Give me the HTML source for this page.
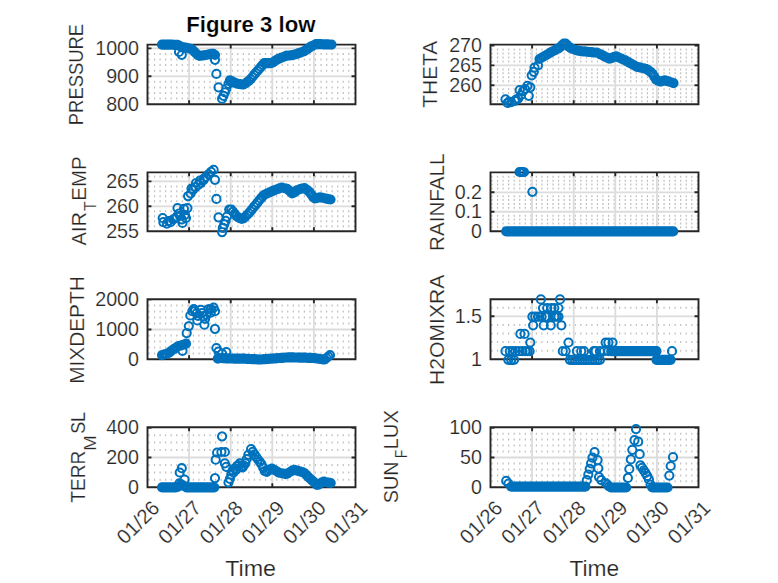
<!DOCTYPE html><html><head><meta charset="utf-8"><title>Figure 3 low</title><style>html,body{margin:0;padding:0;background:#fff;overflow:hidden}svg{display:block}text{font-family:"Liberation Sans", sans-serif;}.t text{stroke:#fff;stroke-width:0.2px}</style></head><body>
<svg width="778" height="583" viewBox="0 0 778 583">
<rect width="778" height="583" fill="#fff"/>
<path d="M149.00 97.62v2.0M154.55 97.62v2.0M160.10 97.62v2.0M165.65 97.62v2.0M171.20 97.62v2.0M176.75 97.62v2.0M182.30 97.62v2.0M187.85 97.62v2.0M193.40 97.62v2.0M198.95 97.62v2.0M204.50 97.62v2.0M210.05 97.62v2.0M215.60 97.62v2.0M221.15 97.62v2.0M226.70 97.62v2.0M232.25 97.62v2.0M237.80 97.62v2.0M243.35 97.62v2.0M248.90 97.62v2.0M254.45 97.62v2.0M260.00 97.62v2.0M265.55 97.62v2.0M271.10 97.62v2.0M276.65 97.62v2.0M282.20 97.62v2.0M287.75 97.62v2.0M293.30 97.62v2.0M298.85 97.62v2.0M304.40 97.62v2.0M309.95 97.62v2.0M315.50 97.62v2.0M321.05 97.62v2.0M326.60 97.62v2.0M332.15 97.62v2.0M337.70 97.62v2.0M343.25 97.62v2.0M348.80 97.62v2.0M354.35 97.62v2.0M149.00 92.03v2.0M154.55 92.03v2.0M160.10 92.03v2.0M165.65 92.03v2.0M171.20 92.03v2.0M176.75 92.03v2.0M182.30 92.03v2.0M187.85 92.03v2.0M193.40 92.03v2.0M198.95 92.03v2.0M204.50 92.03v2.0M210.05 92.03v2.0M215.60 92.03v2.0M221.15 92.03v2.0M226.70 92.03v2.0M232.25 92.03v2.0M237.80 92.03v2.0M243.35 92.03v2.0M248.90 92.03v2.0M254.45 92.03v2.0M260.00 92.03v2.0M265.55 92.03v2.0M271.10 92.03v2.0M276.65 92.03v2.0M282.20 92.03v2.0M287.75 92.03v2.0M293.30 92.03v2.0M298.85 92.03v2.0M304.40 92.03v2.0M309.95 92.03v2.0M315.50 92.03v2.0M321.05 92.03v2.0M326.60 92.03v2.0M332.15 92.03v2.0M337.70 92.03v2.0M343.25 92.03v2.0M348.80 92.03v2.0M354.35 92.03v2.0M149.00 86.44v2.0M154.55 86.44v2.0M160.10 86.44v2.0M165.65 86.44v2.0M171.20 86.44v2.0M176.75 86.44v2.0M182.30 86.44v2.0M187.85 86.44v2.0M193.40 86.44v2.0M198.95 86.44v2.0M204.50 86.44v2.0M210.05 86.44v2.0M215.60 86.44v2.0M221.15 86.44v2.0M226.70 86.44v2.0M232.25 86.44v2.0M237.80 86.44v2.0M243.35 86.44v2.0M248.90 86.44v2.0M254.45 86.44v2.0M260.00 86.44v2.0M265.55 86.44v2.0M271.10 86.44v2.0M276.65 86.44v2.0M282.20 86.44v2.0M287.75 86.44v2.0M293.30 86.44v2.0M298.85 86.44v2.0M304.40 86.44v2.0M309.95 86.44v2.0M315.50 86.44v2.0M321.05 86.44v2.0M326.60 86.44v2.0M332.15 86.44v2.0M337.70 86.44v2.0M343.25 86.44v2.0M348.80 86.44v2.0M354.35 86.44v2.0M149.00 80.86v2.0M154.55 80.86v2.0M160.10 80.86v2.0M165.65 80.86v2.0M171.20 80.86v2.0M176.75 80.86v2.0M182.30 80.86v2.0M187.85 80.86v2.0M193.40 80.86v2.0M198.95 80.86v2.0M204.50 80.86v2.0M210.05 80.86v2.0M215.60 80.86v2.0M221.15 80.86v2.0M226.70 80.86v2.0M232.25 80.86v2.0M237.80 80.86v2.0M243.35 80.86v2.0M248.90 80.86v2.0M254.45 80.86v2.0M260.00 80.86v2.0M265.55 80.86v2.0M271.10 80.86v2.0M276.65 80.86v2.0M282.20 80.86v2.0M287.75 80.86v2.0M293.30 80.86v2.0M298.85 80.86v2.0M304.40 80.86v2.0M309.95 80.86v2.0M315.50 80.86v2.0M321.05 80.86v2.0M326.60 80.86v2.0M332.15 80.86v2.0M337.70 80.86v2.0M343.25 80.86v2.0M348.80 80.86v2.0M354.35 80.86v2.0M149.00 69.69v2.0M154.55 69.69v2.0M160.10 69.69v2.0M165.65 69.69v2.0M171.20 69.69v2.0M176.75 69.69v2.0M182.30 69.69v2.0M187.85 69.69v2.0M193.40 69.69v2.0M198.95 69.69v2.0M204.50 69.69v2.0M210.05 69.69v2.0M215.60 69.69v2.0M221.15 69.69v2.0M226.70 69.69v2.0M232.25 69.69v2.0M237.80 69.69v2.0M243.35 69.69v2.0M248.90 69.69v2.0M254.45 69.69v2.0M260.00 69.69v2.0M265.55 69.69v2.0M271.10 69.69v2.0M276.65 69.69v2.0M282.20 69.69v2.0M287.75 69.69v2.0M293.30 69.69v2.0M298.85 69.69v2.0M304.40 69.69v2.0M309.95 69.69v2.0M315.50 69.69v2.0M321.05 69.69v2.0M326.60 69.69v2.0M332.15 69.69v2.0M337.70 69.69v2.0M343.25 69.69v2.0M348.80 69.69v2.0M354.35 69.69v2.0M149.00 64.11v2.0M154.55 64.11v2.0M160.10 64.11v2.0M165.65 64.11v2.0M171.20 64.11v2.0M176.75 64.11v2.0M182.30 64.11v2.0M187.85 64.11v2.0M193.40 64.11v2.0M198.95 64.11v2.0M204.50 64.11v2.0M210.05 64.11v2.0M215.60 64.11v2.0M221.15 64.11v2.0M226.70 64.11v2.0M232.25 64.11v2.0M237.80 64.11v2.0M243.35 64.11v2.0M248.90 64.11v2.0M254.45 64.11v2.0M260.00 64.11v2.0M265.55 64.11v2.0M271.10 64.11v2.0M276.65 64.11v2.0M282.20 64.11v2.0M287.75 64.11v2.0M293.30 64.11v2.0M298.85 64.11v2.0M304.40 64.11v2.0M309.95 64.11v2.0M315.50 64.11v2.0M321.05 64.11v2.0M326.60 64.11v2.0M332.15 64.11v2.0M337.70 64.11v2.0M343.25 64.11v2.0M348.80 64.11v2.0M354.35 64.11v2.0M149.00 58.52v2.0M154.55 58.52v2.0M160.10 58.52v2.0M165.65 58.52v2.0M171.20 58.52v2.0M176.75 58.52v2.0M182.30 58.52v2.0M187.85 58.52v2.0M193.40 58.52v2.0M198.95 58.52v2.0M204.50 58.52v2.0M210.05 58.52v2.0M215.60 58.52v2.0M221.15 58.52v2.0M226.70 58.52v2.0M232.25 58.52v2.0M237.80 58.52v2.0M243.35 58.52v2.0M248.90 58.52v2.0M254.45 58.52v2.0M260.00 58.52v2.0M265.55 58.52v2.0M271.10 58.52v2.0M276.65 58.52v2.0M282.20 58.52v2.0M287.75 58.52v2.0M293.30 58.52v2.0M298.85 58.52v2.0M304.40 58.52v2.0M309.95 58.52v2.0M315.50 58.52v2.0M321.05 58.52v2.0M326.60 58.52v2.0M332.15 58.52v2.0M337.70 58.52v2.0M343.25 58.52v2.0M348.80 58.52v2.0M354.35 58.52v2.0M149.00 52.94v2.0M154.55 52.94v2.0M160.10 52.94v2.0M165.65 52.94v2.0M171.20 52.94v2.0M176.75 52.94v2.0M182.30 52.94v2.0M187.85 52.94v2.0M193.40 52.94v2.0M198.95 52.94v2.0M204.50 52.94v2.0M210.05 52.94v2.0M215.60 52.94v2.0M221.15 52.94v2.0M226.70 52.94v2.0M232.25 52.94v2.0M237.80 52.94v2.0M243.35 52.94v2.0M248.90 52.94v2.0M254.45 52.94v2.0M260.00 52.94v2.0M265.55 52.94v2.0M271.10 52.94v2.0M276.65 52.94v2.0M282.20 52.94v2.0M287.75 52.94v2.0M293.30 52.94v2.0M298.85 52.94v2.0M304.40 52.94v2.0M309.95 52.94v2.0M315.50 52.94v2.0M321.05 52.94v2.0M326.60 52.94v2.0M332.15 52.94v2.0M337.70 52.94v2.0M343.25 52.94v2.0M348.80 52.94v2.0M354.35 52.94v2.0M492.00 100.22v2.0M497.55 100.22v2.0M503.10 100.22v2.0M508.65 100.22v2.0M514.20 100.22v2.0M519.75 100.22v2.0M525.30 100.22v2.0M530.85 100.22v2.0M536.40 100.22v2.0M541.95 100.22v2.0M547.50 100.22v2.0M553.05 100.22v2.0M558.60 100.22v2.0M564.15 100.22v2.0M569.70 100.22v2.0M575.25 100.22v2.0M580.80 100.22v2.0M586.35 100.22v2.0M591.90 100.22v2.0M597.45 100.22v2.0M603.00 100.22v2.0M608.55 100.22v2.0M614.10 100.22v2.0M619.65 100.22v2.0M625.20 100.22v2.0M630.75 100.22v2.0M636.30 100.22v2.0M641.85 100.22v2.0M647.40 100.22v2.0M652.95 100.22v2.0M658.50 100.22v2.0M664.05 100.22v2.0M669.60 100.22v2.0M675.15 100.22v2.0M680.70 100.22v2.0M686.25 100.22v2.0M691.80 100.22v2.0M697.35 100.22v2.0M492.00 96.24v2.0M497.55 96.24v2.0M503.10 96.24v2.0M508.65 96.24v2.0M514.20 96.24v2.0M519.75 96.24v2.0M525.30 96.24v2.0M530.85 96.24v2.0M536.40 96.24v2.0M541.95 96.24v2.0M547.50 96.24v2.0M553.05 96.24v2.0M558.60 96.24v2.0M564.15 96.24v2.0M569.70 96.24v2.0M575.25 96.24v2.0M580.80 96.24v2.0M586.35 96.24v2.0M591.90 96.24v2.0M597.45 96.24v2.0M603.00 96.24v2.0M608.55 96.24v2.0M614.10 96.24v2.0M619.65 96.24v2.0M625.20 96.24v2.0M630.75 96.24v2.0M636.30 96.24v2.0M641.85 96.24v2.0M647.40 96.24v2.0M652.95 96.24v2.0M658.50 96.24v2.0M664.05 96.24v2.0M669.60 96.24v2.0M675.15 96.24v2.0M680.70 96.24v2.0M686.25 96.24v2.0M691.80 96.24v2.0M697.35 96.24v2.0M492.00 92.26v2.0M497.55 92.26v2.0M503.10 92.26v2.0M508.65 92.26v2.0M514.20 92.26v2.0M519.75 92.26v2.0M525.30 92.26v2.0M530.85 92.26v2.0M536.40 92.26v2.0M541.95 92.26v2.0M547.50 92.26v2.0M553.05 92.26v2.0M558.60 92.26v2.0M564.15 92.26v2.0M569.70 92.26v2.0M575.25 92.26v2.0M580.80 92.26v2.0M586.35 92.26v2.0M591.90 92.26v2.0M597.45 92.26v2.0M603.00 92.26v2.0M608.55 92.26v2.0M614.10 92.26v2.0M619.65 92.26v2.0M625.20 92.26v2.0M630.75 92.26v2.0M636.30 92.26v2.0M641.85 92.26v2.0M647.40 92.26v2.0M652.95 92.26v2.0M658.50 92.26v2.0M664.05 92.26v2.0M669.60 92.26v2.0M675.15 92.26v2.0M680.70 92.26v2.0M686.25 92.26v2.0M691.80 92.26v2.0M697.35 92.26v2.0M492.00 88.28v2.0M497.55 88.28v2.0M503.10 88.28v2.0M508.65 88.28v2.0M514.20 88.28v2.0M519.75 88.28v2.0M525.30 88.28v2.0M530.85 88.28v2.0M536.40 88.28v2.0M541.95 88.28v2.0M547.50 88.28v2.0M553.05 88.28v2.0M558.60 88.28v2.0M564.15 88.28v2.0M569.70 88.28v2.0M575.25 88.28v2.0M580.80 88.28v2.0M586.35 88.28v2.0M591.90 88.28v2.0M597.45 88.28v2.0M603.00 88.28v2.0M608.55 88.28v2.0M614.10 88.28v2.0M619.65 88.28v2.0M625.20 88.28v2.0M630.75 88.28v2.0M636.30 88.28v2.0M641.85 88.28v2.0M647.40 88.28v2.0M652.95 88.28v2.0M658.50 88.28v2.0M664.05 88.28v2.0M669.60 88.28v2.0M675.15 88.28v2.0M680.70 88.28v2.0M686.25 88.28v2.0M691.80 88.28v2.0M697.35 88.28v2.0M492.00 80.32v2.0M497.55 80.32v2.0M503.10 80.32v2.0M508.65 80.32v2.0M514.20 80.32v2.0M519.75 80.32v2.0M525.30 80.32v2.0M530.85 80.32v2.0M536.40 80.32v2.0M541.95 80.32v2.0M547.50 80.32v2.0M553.05 80.32v2.0M558.60 80.32v2.0M564.15 80.32v2.0M569.70 80.32v2.0M575.25 80.32v2.0M580.80 80.32v2.0M586.35 80.32v2.0M591.90 80.32v2.0M597.45 80.32v2.0M603.00 80.32v2.0M608.55 80.32v2.0M614.10 80.32v2.0M619.65 80.32v2.0M625.20 80.32v2.0M630.75 80.32v2.0M636.30 80.32v2.0M641.85 80.32v2.0M647.40 80.32v2.0M652.95 80.32v2.0M658.50 80.32v2.0M664.05 80.32v2.0M669.60 80.32v2.0M675.15 80.32v2.0M680.70 80.32v2.0M686.25 80.32v2.0M691.80 80.32v2.0M697.35 80.32v2.0M492.00 76.34v2.0M497.55 76.34v2.0M503.10 76.34v2.0M508.65 76.34v2.0M514.20 76.34v2.0M519.75 76.34v2.0M525.30 76.34v2.0M530.85 76.34v2.0M536.40 76.34v2.0M541.95 76.34v2.0M547.50 76.34v2.0M553.05 76.34v2.0M558.60 76.34v2.0M564.15 76.34v2.0M569.70 76.34v2.0M575.25 76.34v2.0M580.80 76.34v2.0M586.35 76.34v2.0M591.90 76.34v2.0M597.45 76.34v2.0M603.00 76.34v2.0M608.55 76.34v2.0M614.10 76.34v2.0M619.65 76.34v2.0M625.20 76.34v2.0M630.75 76.34v2.0M636.30 76.34v2.0M641.85 76.34v2.0M647.40 76.34v2.0M652.95 76.34v2.0M658.50 76.34v2.0M664.05 76.34v2.0M669.60 76.34v2.0M675.15 76.34v2.0M680.70 76.34v2.0M686.25 76.34v2.0M691.80 76.34v2.0M697.35 76.34v2.0M492.00 72.36v2.0M497.55 72.36v2.0M503.10 72.36v2.0M508.65 72.36v2.0M514.20 72.36v2.0M519.75 72.36v2.0M525.30 72.36v2.0M530.85 72.36v2.0M536.40 72.36v2.0M541.95 72.36v2.0M547.50 72.36v2.0M553.05 72.36v2.0M558.60 72.36v2.0M564.15 72.36v2.0M569.70 72.36v2.0M575.25 72.36v2.0M580.80 72.36v2.0M586.35 72.36v2.0M591.90 72.36v2.0M597.45 72.36v2.0M603.00 72.36v2.0M608.55 72.36v2.0M614.10 72.36v2.0M619.65 72.36v2.0M625.20 72.36v2.0M630.75 72.36v2.0M636.30 72.36v2.0M641.85 72.36v2.0M647.40 72.36v2.0M652.95 72.36v2.0M658.50 72.36v2.0M664.05 72.36v2.0M669.60 72.36v2.0M675.15 72.36v2.0M680.70 72.36v2.0M686.25 72.36v2.0M691.80 72.36v2.0M697.35 72.36v2.0M492.00 68.38v2.0M497.55 68.38v2.0M503.10 68.38v2.0M508.65 68.38v2.0M514.20 68.38v2.0M519.75 68.38v2.0M525.30 68.38v2.0M530.85 68.38v2.0M536.40 68.38v2.0M541.95 68.38v2.0M547.50 68.38v2.0M553.05 68.38v2.0M558.60 68.38v2.0M564.15 68.38v2.0M569.70 68.38v2.0M575.25 68.38v2.0M580.80 68.38v2.0M586.35 68.38v2.0M591.90 68.38v2.0M597.45 68.38v2.0M603.00 68.38v2.0M608.55 68.38v2.0M614.10 68.38v2.0M619.65 68.38v2.0M625.20 68.38v2.0M630.75 68.38v2.0M636.30 68.38v2.0M641.85 68.38v2.0M647.40 68.38v2.0M652.95 68.38v2.0M658.50 68.38v2.0M664.05 68.38v2.0M669.60 68.38v2.0M675.15 68.38v2.0M680.70 68.38v2.0M686.25 68.38v2.0M691.80 68.38v2.0M697.35 68.38v2.0M492.00 60.42v2.0M497.55 60.42v2.0M503.10 60.42v2.0M508.65 60.42v2.0M514.20 60.42v2.0M519.75 60.42v2.0M525.30 60.42v2.0M530.85 60.42v2.0M536.40 60.42v2.0M541.95 60.42v2.0M547.50 60.42v2.0M553.05 60.42v2.0M558.60 60.42v2.0M564.15 60.42v2.0M569.70 60.42v2.0M575.25 60.42v2.0M580.80 60.42v2.0M586.35 60.42v2.0M591.90 60.42v2.0M597.45 60.42v2.0M603.00 60.42v2.0M608.55 60.42v2.0M614.10 60.42v2.0M619.65 60.42v2.0M625.20 60.42v2.0M630.75 60.42v2.0M636.30 60.42v2.0M641.85 60.42v2.0M647.40 60.42v2.0M652.95 60.42v2.0M658.50 60.42v2.0M664.05 60.42v2.0M669.60 60.42v2.0M675.15 60.42v2.0M680.70 60.42v2.0M686.25 60.42v2.0M691.80 60.42v2.0M697.35 60.42v2.0M492.00 56.44v2.0M497.55 56.44v2.0M503.10 56.44v2.0M508.65 56.44v2.0M514.20 56.44v2.0M519.75 56.44v2.0M525.30 56.44v2.0M530.85 56.44v2.0M536.40 56.44v2.0M541.95 56.44v2.0M547.50 56.44v2.0M553.05 56.44v2.0M558.60 56.44v2.0M564.15 56.44v2.0M569.70 56.44v2.0M575.25 56.44v2.0M580.80 56.44v2.0M586.35 56.44v2.0M591.90 56.44v2.0M597.45 56.44v2.0M603.00 56.44v2.0M608.55 56.44v2.0M614.10 56.44v2.0M619.65 56.44v2.0M625.20 56.44v2.0M630.75 56.44v2.0M636.30 56.44v2.0M641.85 56.44v2.0M647.40 56.44v2.0M652.95 56.44v2.0M658.50 56.44v2.0M664.05 56.44v2.0M669.60 56.44v2.0M675.15 56.44v2.0M680.70 56.44v2.0M686.25 56.44v2.0M691.80 56.44v2.0M697.35 56.44v2.0M492.00 52.46v2.0M497.55 52.46v2.0M503.10 52.46v2.0M508.65 52.46v2.0M514.20 52.46v2.0M519.75 52.46v2.0M525.30 52.46v2.0M530.85 52.46v2.0M536.40 52.46v2.0M541.95 52.46v2.0M547.50 52.46v2.0M553.05 52.46v2.0M558.60 52.46v2.0M564.15 52.46v2.0M569.70 52.46v2.0M575.25 52.46v2.0M580.80 52.46v2.0M586.35 52.46v2.0M591.90 52.46v2.0M597.45 52.46v2.0M603.00 52.46v2.0M608.55 52.46v2.0M614.10 52.46v2.0M619.65 52.46v2.0M625.20 52.46v2.0M630.75 52.46v2.0M636.30 52.46v2.0M641.85 52.46v2.0M647.40 52.46v2.0M652.95 52.46v2.0M658.50 52.46v2.0M664.05 52.46v2.0M669.60 52.46v2.0M675.15 52.46v2.0M680.70 52.46v2.0M686.25 52.46v2.0M691.80 52.46v2.0M697.35 52.46v2.0M492.00 48.48v2.0M497.55 48.48v2.0M503.10 48.48v2.0M508.65 48.48v2.0M514.20 48.48v2.0M519.75 48.48v2.0M525.30 48.48v2.0M530.85 48.48v2.0M536.40 48.48v2.0M541.95 48.48v2.0M547.50 48.48v2.0M553.05 48.48v2.0M558.60 48.48v2.0M564.15 48.48v2.0M569.70 48.48v2.0M575.25 48.48v2.0M580.80 48.48v2.0M586.35 48.48v2.0M591.90 48.48v2.0M597.45 48.48v2.0M603.00 48.48v2.0M608.55 48.48v2.0M614.10 48.48v2.0M619.65 48.48v2.0M625.20 48.48v2.0M630.75 48.48v2.0M636.30 48.48v2.0M641.85 48.48v2.0M647.40 48.48v2.0M652.95 48.48v2.0M658.50 48.48v2.0M664.05 48.48v2.0M669.60 48.48v2.0M675.15 48.48v2.0M680.70 48.48v2.0M686.25 48.48v2.0M691.80 48.48v2.0M697.35 48.48v2.0M149.00 225.22v2.0M154.55 225.22v2.0M160.10 225.22v2.0M165.65 225.22v2.0M171.20 225.22v2.0M176.75 225.22v2.0M182.30 225.22v2.0M187.85 225.22v2.0M193.40 225.22v2.0M198.95 225.22v2.0M204.50 225.22v2.0M210.05 225.22v2.0M215.60 225.22v2.0M221.15 225.22v2.0M226.70 225.22v2.0M232.25 225.22v2.0M237.80 225.22v2.0M243.35 225.22v2.0M248.90 225.22v2.0M254.45 225.22v2.0M260.00 225.22v2.0M265.55 225.22v2.0M271.10 225.22v2.0M276.65 225.22v2.0M282.20 225.22v2.0M287.75 225.22v2.0M293.30 225.22v2.0M298.85 225.22v2.0M304.40 225.22v2.0M309.95 225.22v2.0M315.50 225.22v2.0M321.05 225.22v2.0M326.60 225.22v2.0M332.15 225.22v2.0M337.70 225.22v2.0M343.25 225.22v2.0M348.80 225.22v2.0M354.35 225.22v2.0M149.00 220.24v2.0M154.55 220.24v2.0M160.10 220.24v2.0M165.65 220.24v2.0M171.20 220.24v2.0M176.75 220.24v2.0M182.30 220.24v2.0M187.85 220.24v2.0M193.40 220.24v2.0M198.95 220.24v2.0M204.50 220.24v2.0M210.05 220.24v2.0M215.60 220.24v2.0M221.15 220.24v2.0M226.70 220.24v2.0M232.25 220.24v2.0M237.80 220.24v2.0M243.35 220.24v2.0M248.90 220.24v2.0M254.45 220.24v2.0M260.00 220.24v2.0M265.55 220.24v2.0M271.10 220.24v2.0M276.65 220.24v2.0M282.20 220.24v2.0M287.75 220.24v2.0M293.30 220.24v2.0M298.85 220.24v2.0M304.40 220.24v2.0M309.95 220.24v2.0M315.50 220.24v2.0M321.05 220.24v2.0M326.60 220.24v2.0M332.15 220.24v2.0M337.70 220.24v2.0M343.25 220.24v2.0M348.80 220.24v2.0M354.35 220.24v2.0M149.00 215.26v2.0M154.55 215.26v2.0M160.10 215.26v2.0M165.65 215.26v2.0M171.20 215.26v2.0M176.75 215.26v2.0M182.30 215.26v2.0M187.85 215.26v2.0M193.40 215.26v2.0M198.95 215.26v2.0M204.50 215.26v2.0M210.05 215.26v2.0M215.60 215.26v2.0M221.15 215.26v2.0M226.70 215.26v2.0M232.25 215.26v2.0M237.80 215.26v2.0M243.35 215.26v2.0M248.90 215.26v2.0M254.45 215.26v2.0M260.00 215.26v2.0M265.55 215.26v2.0M271.10 215.26v2.0M276.65 215.26v2.0M282.20 215.26v2.0M287.75 215.26v2.0M293.30 215.26v2.0M298.85 215.26v2.0M304.40 215.26v2.0M309.95 215.26v2.0M315.50 215.26v2.0M321.05 215.26v2.0M326.60 215.26v2.0M332.15 215.26v2.0M337.70 215.26v2.0M343.25 215.26v2.0M348.80 215.26v2.0M354.35 215.26v2.0M149.00 210.28v2.0M154.55 210.28v2.0M160.10 210.28v2.0M165.65 210.28v2.0M171.20 210.28v2.0M176.75 210.28v2.0M182.30 210.28v2.0M187.85 210.28v2.0M193.40 210.28v2.0M198.95 210.28v2.0M204.50 210.28v2.0M210.05 210.28v2.0M215.60 210.28v2.0M221.15 210.28v2.0M226.70 210.28v2.0M232.25 210.28v2.0M237.80 210.28v2.0M243.35 210.28v2.0M248.90 210.28v2.0M254.45 210.28v2.0M260.00 210.28v2.0M265.55 210.28v2.0M271.10 210.28v2.0M276.65 210.28v2.0M282.20 210.28v2.0M287.75 210.28v2.0M293.30 210.28v2.0M298.85 210.28v2.0M304.40 210.28v2.0M309.95 210.28v2.0M315.50 210.28v2.0M321.05 210.28v2.0M326.60 210.28v2.0M332.15 210.28v2.0M337.70 210.28v2.0M343.25 210.28v2.0M348.80 210.28v2.0M354.35 210.28v2.0M149.00 200.32v2.0M154.55 200.32v2.0M160.10 200.32v2.0M165.65 200.32v2.0M171.20 200.32v2.0M176.75 200.32v2.0M182.30 200.32v2.0M187.85 200.32v2.0M193.40 200.32v2.0M198.95 200.32v2.0M204.50 200.32v2.0M210.05 200.32v2.0M215.60 200.32v2.0M221.15 200.32v2.0M226.70 200.32v2.0M232.25 200.32v2.0M237.80 200.32v2.0M243.35 200.32v2.0M248.90 200.32v2.0M254.45 200.32v2.0M260.00 200.32v2.0M265.55 200.32v2.0M271.10 200.32v2.0M276.65 200.32v2.0M282.20 200.32v2.0M287.75 200.32v2.0M293.30 200.32v2.0M298.85 200.32v2.0M304.40 200.32v2.0M309.95 200.32v2.0M315.50 200.32v2.0M321.05 200.32v2.0M326.60 200.32v2.0M332.15 200.32v2.0M337.70 200.32v2.0M343.25 200.32v2.0M348.80 200.32v2.0M354.35 200.32v2.0M149.00 195.34v2.0M154.55 195.34v2.0M160.10 195.34v2.0M165.65 195.34v2.0M171.20 195.34v2.0M176.75 195.34v2.0M182.30 195.34v2.0M187.85 195.34v2.0M193.40 195.34v2.0M198.95 195.34v2.0M204.50 195.34v2.0M210.05 195.34v2.0M215.60 195.34v2.0M221.15 195.34v2.0M226.70 195.34v2.0M232.25 195.34v2.0M237.80 195.34v2.0M243.35 195.34v2.0M248.90 195.34v2.0M254.45 195.34v2.0M260.00 195.34v2.0M265.55 195.34v2.0M271.10 195.34v2.0M276.65 195.34v2.0M282.20 195.34v2.0M287.75 195.34v2.0M293.30 195.34v2.0M298.85 195.34v2.0M304.40 195.34v2.0M309.95 195.34v2.0M315.50 195.34v2.0M321.05 195.34v2.0M326.60 195.34v2.0M332.15 195.34v2.0M337.70 195.34v2.0M343.25 195.34v2.0M348.80 195.34v2.0M354.35 195.34v2.0M149.00 190.36v2.0M154.55 190.36v2.0M160.10 190.36v2.0M165.65 190.36v2.0M171.20 190.36v2.0M176.75 190.36v2.0M182.30 190.36v2.0M187.85 190.36v2.0M193.40 190.36v2.0M198.95 190.36v2.0M204.50 190.36v2.0M210.05 190.36v2.0M215.60 190.36v2.0M221.15 190.36v2.0M226.70 190.36v2.0M232.25 190.36v2.0M237.80 190.36v2.0M243.35 190.36v2.0M248.90 190.36v2.0M254.45 190.36v2.0M260.00 190.36v2.0M265.55 190.36v2.0M271.10 190.36v2.0M276.65 190.36v2.0M282.20 190.36v2.0M287.75 190.36v2.0M293.30 190.36v2.0M298.85 190.36v2.0M304.40 190.36v2.0M309.95 190.36v2.0M315.50 190.36v2.0M321.05 190.36v2.0M326.60 190.36v2.0M332.15 190.36v2.0M337.70 190.36v2.0M343.25 190.36v2.0M348.80 190.36v2.0M354.35 190.36v2.0M149.00 185.38v2.0M154.55 185.38v2.0M160.10 185.38v2.0M165.65 185.38v2.0M171.20 185.38v2.0M176.75 185.38v2.0M182.30 185.38v2.0M187.85 185.38v2.0M193.40 185.38v2.0M198.95 185.38v2.0M204.50 185.38v2.0M210.05 185.38v2.0M215.60 185.38v2.0M221.15 185.38v2.0M226.70 185.38v2.0M232.25 185.38v2.0M237.80 185.38v2.0M243.35 185.38v2.0M248.90 185.38v2.0M254.45 185.38v2.0M260.00 185.38v2.0M265.55 185.38v2.0M271.10 185.38v2.0M276.65 185.38v2.0M282.20 185.38v2.0M287.75 185.38v2.0M293.30 185.38v2.0M298.85 185.38v2.0M304.40 185.38v2.0M309.95 185.38v2.0M315.50 185.38v2.0M321.05 185.38v2.0M326.60 185.38v2.0M332.15 185.38v2.0M337.70 185.38v2.0M343.25 185.38v2.0M348.80 185.38v2.0M354.35 185.38v2.0M149.00 175.42v2.0M154.55 175.42v2.0M160.10 175.42v2.0M165.65 175.42v2.0M171.20 175.42v2.0M176.75 175.42v2.0M182.30 175.42v2.0M187.85 175.42v2.0M193.40 175.42v2.0M198.95 175.42v2.0M204.50 175.42v2.0M210.05 175.42v2.0M215.60 175.42v2.0M221.15 175.42v2.0M226.70 175.42v2.0M232.25 175.42v2.0M237.80 175.42v2.0M243.35 175.42v2.0M248.90 175.42v2.0M254.45 175.42v2.0M260.00 175.42v2.0M265.55 175.42v2.0M271.10 175.42v2.0M276.65 175.42v2.0M282.20 175.42v2.0M287.75 175.42v2.0M293.30 175.42v2.0M298.85 175.42v2.0M304.40 175.42v2.0M309.95 175.42v2.0M315.50 175.42v2.0M321.05 175.42v2.0M326.60 175.42v2.0M332.15 175.42v2.0M337.70 175.42v2.0M343.25 175.42v2.0M348.80 175.42v2.0M354.35 175.42v2.0M492.00 226.31v2.0M497.55 226.31v2.0M503.10 226.31v2.0M508.65 226.31v2.0M514.20 226.31v2.0M519.75 226.31v2.0M525.30 226.31v2.0M530.85 226.31v2.0M536.40 226.31v2.0M541.95 226.31v2.0M547.50 226.31v2.0M553.05 226.31v2.0M558.60 226.31v2.0M564.15 226.31v2.0M569.70 226.31v2.0M575.25 226.31v2.0M580.80 226.31v2.0M586.35 226.31v2.0M591.90 226.31v2.0M597.45 226.31v2.0M603.00 226.31v2.0M608.55 226.31v2.0M614.10 226.31v2.0M619.65 226.31v2.0M625.20 226.31v2.0M630.75 226.31v2.0M636.30 226.31v2.0M641.85 226.31v2.0M647.40 226.31v2.0M652.95 226.31v2.0M658.50 226.31v2.0M664.05 226.31v2.0M669.60 226.31v2.0M675.15 226.31v2.0M680.70 226.31v2.0M686.25 226.31v2.0M691.80 226.31v2.0M697.35 226.31v2.0M492.00 222.42v2.0M497.55 222.42v2.0M503.10 222.42v2.0M508.65 222.42v2.0M514.20 222.42v2.0M519.75 222.42v2.0M525.30 222.42v2.0M530.85 222.42v2.0M536.40 222.42v2.0M541.95 222.42v2.0M547.50 222.42v2.0M553.05 222.42v2.0M558.60 222.42v2.0M564.15 222.42v2.0M569.70 222.42v2.0M575.25 222.42v2.0M580.80 222.42v2.0M586.35 222.42v2.0M591.90 222.42v2.0M597.45 222.42v2.0M603.00 222.42v2.0M608.55 222.42v2.0M614.10 222.42v2.0M619.65 222.42v2.0M625.20 222.42v2.0M630.75 222.42v2.0M636.30 222.42v2.0M641.85 222.42v2.0M647.40 222.42v2.0M652.95 222.42v2.0M658.50 222.42v2.0M664.05 222.42v2.0M669.60 222.42v2.0M675.15 222.42v2.0M680.70 222.42v2.0M686.25 222.42v2.0M691.80 222.42v2.0M697.35 222.42v2.0M492.00 218.53v2.0M497.55 218.53v2.0M503.10 218.53v2.0M508.65 218.53v2.0M514.20 218.53v2.0M519.75 218.53v2.0M525.30 218.53v2.0M530.85 218.53v2.0M536.40 218.53v2.0M541.95 218.53v2.0M547.50 218.53v2.0M553.05 218.53v2.0M558.60 218.53v2.0M564.15 218.53v2.0M569.70 218.53v2.0M575.25 218.53v2.0M580.80 218.53v2.0M586.35 218.53v2.0M591.90 218.53v2.0M597.45 218.53v2.0M603.00 218.53v2.0M608.55 218.53v2.0M614.10 218.53v2.0M619.65 218.53v2.0M625.20 218.53v2.0M630.75 218.53v2.0M636.30 218.53v2.0M641.85 218.53v2.0M647.40 218.53v2.0M652.95 218.53v2.0M658.50 218.53v2.0M664.05 218.53v2.0M669.60 218.53v2.0M675.15 218.53v2.0M680.70 218.53v2.0M686.25 218.53v2.0M691.80 218.53v2.0M697.35 218.53v2.0M492.00 214.64v2.0M497.55 214.64v2.0M503.10 214.64v2.0M508.65 214.64v2.0M514.20 214.64v2.0M519.75 214.64v2.0M525.30 214.64v2.0M530.85 214.64v2.0M536.40 214.64v2.0M541.95 214.64v2.0M547.50 214.64v2.0M553.05 214.64v2.0M558.60 214.64v2.0M564.15 214.64v2.0M569.70 214.64v2.0M575.25 214.64v2.0M580.80 214.64v2.0M586.35 214.64v2.0M591.90 214.64v2.0M597.45 214.64v2.0M603.00 214.64v2.0M608.55 214.64v2.0M614.10 214.64v2.0M619.65 214.64v2.0M625.20 214.64v2.0M630.75 214.64v2.0M636.30 214.64v2.0M641.85 214.64v2.0M647.40 214.64v2.0M652.95 214.64v2.0M658.50 214.64v2.0M664.05 214.64v2.0M669.60 214.64v2.0M675.15 214.64v2.0M680.70 214.64v2.0M686.25 214.64v2.0M691.80 214.64v2.0M697.35 214.64v2.0M492.00 206.86v2.0M497.55 206.86v2.0M503.10 206.86v2.0M508.65 206.86v2.0M514.20 206.86v2.0M519.75 206.86v2.0M525.30 206.86v2.0M530.85 206.86v2.0M536.40 206.86v2.0M541.95 206.86v2.0M547.50 206.86v2.0M553.05 206.86v2.0M558.60 206.86v2.0M564.15 206.86v2.0M569.70 206.86v2.0M575.25 206.86v2.0M580.80 206.86v2.0M586.35 206.86v2.0M591.90 206.86v2.0M597.45 206.86v2.0M603.00 206.86v2.0M608.55 206.86v2.0M614.10 206.86v2.0M619.65 206.86v2.0M625.20 206.86v2.0M630.75 206.86v2.0M636.30 206.86v2.0M641.85 206.86v2.0M647.40 206.86v2.0M652.95 206.86v2.0M658.50 206.86v2.0M664.05 206.86v2.0M669.60 206.86v2.0M675.15 206.86v2.0M680.70 206.86v2.0M686.25 206.86v2.0M691.80 206.86v2.0M697.35 206.86v2.0M492.00 202.97v2.0M497.55 202.97v2.0M503.10 202.97v2.0M508.65 202.97v2.0M514.20 202.97v2.0M519.75 202.97v2.0M525.30 202.97v2.0M530.85 202.97v2.0M536.40 202.97v2.0M541.95 202.97v2.0M547.50 202.97v2.0M553.05 202.97v2.0M558.60 202.97v2.0M564.15 202.97v2.0M569.70 202.97v2.0M575.25 202.97v2.0M580.80 202.97v2.0M586.35 202.97v2.0M591.90 202.97v2.0M597.45 202.97v2.0M603.00 202.97v2.0M608.55 202.97v2.0M614.10 202.97v2.0M619.65 202.97v2.0M625.20 202.97v2.0M630.75 202.97v2.0M636.30 202.97v2.0M641.85 202.97v2.0M647.40 202.97v2.0M652.95 202.97v2.0M658.50 202.97v2.0M664.05 202.97v2.0M669.60 202.97v2.0M675.15 202.97v2.0M680.70 202.97v2.0M686.25 202.97v2.0M691.80 202.97v2.0M697.35 202.97v2.0M492.00 199.08v2.0M497.55 199.08v2.0M503.10 199.08v2.0M508.65 199.08v2.0M514.20 199.08v2.0M519.75 199.08v2.0M525.30 199.08v2.0M530.85 199.08v2.0M536.40 199.08v2.0M541.95 199.08v2.0M547.50 199.08v2.0M553.05 199.08v2.0M558.60 199.08v2.0M564.15 199.08v2.0M569.70 199.08v2.0M575.25 199.08v2.0M580.80 199.08v2.0M586.35 199.08v2.0M591.90 199.08v2.0M597.45 199.08v2.0M603.00 199.08v2.0M608.55 199.08v2.0M614.10 199.08v2.0M619.65 199.08v2.0M625.20 199.08v2.0M630.75 199.08v2.0M636.30 199.08v2.0M641.85 199.08v2.0M647.40 199.08v2.0M652.95 199.08v2.0M658.50 199.08v2.0M664.05 199.08v2.0M669.60 199.08v2.0M675.15 199.08v2.0M680.70 199.08v2.0M686.25 199.08v2.0M691.80 199.08v2.0M697.35 199.08v2.0M492.00 195.19v2.0M497.55 195.19v2.0M503.10 195.19v2.0M508.65 195.19v2.0M514.20 195.19v2.0M519.75 195.19v2.0M525.30 195.19v2.0M530.85 195.19v2.0M536.40 195.19v2.0M541.95 195.19v2.0M547.50 195.19v2.0M553.05 195.19v2.0M558.60 195.19v2.0M564.15 195.19v2.0M569.70 195.19v2.0M575.25 195.19v2.0M580.80 195.19v2.0M586.35 195.19v2.0M591.90 195.19v2.0M597.45 195.19v2.0M603.00 195.19v2.0M608.55 195.19v2.0M614.10 195.19v2.0M619.65 195.19v2.0M625.20 195.19v2.0M630.75 195.19v2.0M636.30 195.19v2.0M641.85 195.19v2.0M647.40 195.19v2.0M652.95 195.19v2.0M658.50 195.19v2.0M664.05 195.19v2.0M669.60 195.19v2.0M675.15 195.19v2.0M680.70 195.19v2.0M686.25 195.19v2.0M691.80 195.19v2.0M697.35 195.19v2.0M492.00 187.41v2.0M497.55 187.41v2.0M503.10 187.41v2.0M508.65 187.41v2.0M514.20 187.41v2.0M519.75 187.41v2.0M525.30 187.41v2.0M530.85 187.41v2.0M536.40 187.41v2.0M541.95 187.41v2.0M547.50 187.41v2.0M553.05 187.41v2.0M558.60 187.41v2.0M564.15 187.41v2.0M569.70 187.41v2.0M575.25 187.41v2.0M580.80 187.41v2.0M586.35 187.41v2.0M591.90 187.41v2.0M597.45 187.41v2.0M603.00 187.41v2.0M608.55 187.41v2.0M614.10 187.41v2.0M619.65 187.41v2.0M625.20 187.41v2.0M630.75 187.41v2.0M636.30 187.41v2.0M641.85 187.41v2.0M647.40 187.41v2.0M652.95 187.41v2.0M658.50 187.41v2.0M664.05 187.41v2.0M669.60 187.41v2.0M675.15 187.41v2.0M680.70 187.41v2.0M686.25 187.41v2.0M691.80 187.41v2.0M697.35 187.41v2.0M492.00 183.52v2.0M497.55 183.52v2.0M503.10 183.52v2.0M508.65 183.52v2.0M514.20 183.52v2.0M519.75 183.52v2.0M525.30 183.52v2.0M530.85 183.52v2.0M536.40 183.52v2.0M541.95 183.52v2.0M547.50 183.52v2.0M553.05 183.52v2.0M558.60 183.52v2.0M564.15 183.52v2.0M569.70 183.52v2.0M575.25 183.52v2.0M580.80 183.52v2.0M586.35 183.52v2.0M591.90 183.52v2.0M597.45 183.52v2.0M603.00 183.52v2.0M608.55 183.52v2.0M614.10 183.52v2.0M619.65 183.52v2.0M625.20 183.52v2.0M630.75 183.52v2.0M636.30 183.52v2.0M641.85 183.52v2.0M647.40 183.52v2.0M652.95 183.52v2.0M658.50 183.52v2.0M664.05 183.52v2.0M669.60 183.52v2.0M675.15 183.52v2.0M680.70 183.52v2.0M686.25 183.52v2.0M691.80 183.52v2.0M697.35 183.52v2.0M492.00 179.63v2.0M497.55 179.63v2.0M503.10 179.63v2.0M508.65 179.63v2.0M514.20 179.63v2.0M519.75 179.63v2.0M525.30 179.63v2.0M530.85 179.63v2.0M536.40 179.63v2.0M541.95 179.63v2.0M547.50 179.63v2.0M553.05 179.63v2.0M558.60 179.63v2.0M564.15 179.63v2.0M569.70 179.63v2.0M575.25 179.63v2.0M580.80 179.63v2.0M586.35 179.63v2.0M591.90 179.63v2.0M597.45 179.63v2.0M603.00 179.63v2.0M608.55 179.63v2.0M614.10 179.63v2.0M619.65 179.63v2.0M625.20 179.63v2.0M630.75 179.63v2.0M636.30 179.63v2.0M641.85 179.63v2.0M647.40 179.63v2.0M652.95 179.63v2.0M658.50 179.63v2.0M664.05 179.63v2.0M669.60 179.63v2.0M675.15 179.63v2.0M680.70 179.63v2.0M686.25 179.63v2.0M691.80 179.63v2.0M697.35 179.63v2.0M492.00 175.74v2.0M497.55 175.74v2.0M503.10 175.74v2.0M508.65 175.74v2.0M514.20 175.74v2.0M519.75 175.74v2.0M525.30 175.74v2.0M530.85 175.74v2.0M536.40 175.74v2.0M541.95 175.74v2.0M547.50 175.74v2.0M553.05 175.74v2.0M558.60 175.74v2.0M564.15 175.74v2.0M569.70 175.74v2.0M575.25 175.74v2.0M580.80 175.74v2.0M586.35 175.74v2.0M591.90 175.74v2.0M597.45 175.74v2.0M603.00 175.74v2.0M608.55 175.74v2.0M614.10 175.74v2.0M619.65 175.74v2.0M625.20 175.74v2.0M630.75 175.74v2.0M636.30 175.74v2.0M641.85 175.74v2.0M647.40 175.74v2.0M652.95 175.74v2.0M658.50 175.74v2.0M664.05 175.74v2.0M669.60 175.74v2.0M675.15 175.74v2.0M680.70 175.74v2.0M686.25 175.74v2.0M691.80 175.74v2.0M697.35 175.74v2.0M149.00 352.38v2.0M154.55 352.38v2.0M160.10 352.38v2.0M165.65 352.38v2.0M171.20 352.38v2.0M176.75 352.38v2.0M182.30 352.38v2.0M187.85 352.38v2.0M193.40 352.38v2.0M198.95 352.38v2.0M204.50 352.38v2.0M210.05 352.38v2.0M215.60 352.38v2.0M221.15 352.38v2.0M226.70 352.38v2.0M232.25 352.38v2.0M237.80 352.38v2.0M243.35 352.38v2.0M248.90 352.38v2.0M254.45 352.38v2.0M260.00 352.38v2.0M265.55 352.38v2.0M271.10 352.38v2.0M276.65 352.38v2.0M282.20 352.38v2.0M287.75 352.38v2.0M293.30 352.38v2.0M298.85 352.38v2.0M304.40 352.38v2.0M309.95 352.38v2.0M315.50 352.38v2.0M321.05 352.38v2.0M326.60 352.38v2.0M332.15 352.38v2.0M337.70 352.38v2.0M343.25 352.38v2.0M348.80 352.38v2.0M354.35 352.38v2.0M149.00 346.41v2.0M154.55 346.41v2.0M160.10 346.41v2.0M165.65 346.41v2.0M171.20 346.41v2.0M176.75 346.41v2.0M182.30 346.41v2.0M187.85 346.41v2.0M193.40 346.41v2.0M198.95 346.41v2.0M204.50 346.41v2.0M210.05 346.41v2.0M215.60 346.41v2.0M221.15 346.41v2.0M226.70 346.41v2.0M232.25 346.41v2.0M237.80 346.41v2.0M243.35 346.41v2.0M248.90 346.41v2.0M254.45 346.41v2.0M260.00 346.41v2.0M265.55 346.41v2.0M271.10 346.41v2.0M276.65 346.41v2.0M282.20 346.41v2.0M287.75 346.41v2.0M293.30 346.41v2.0M298.85 346.41v2.0M304.40 346.41v2.0M309.95 346.41v2.0M315.50 346.41v2.0M321.05 346.41v2.0M326.60 346.41v2.0M332.15 346.41v2.0M337.70 346.41v2.0M343.25 346.41v2.0M348.80 346.41v2.0M354.35 346.41v2.0M149.00 340.44v2.0M154.55 340.44v2.0M160.10 340.44v2.0M165.65 340.44v2.0M171.20 340.44v2.0M176.75 340.44v2.0M182.30 340.44v2.0M187.85 340.44v2.0M193.40 340.44v2.0M198.95 340.44v2.0M204.50 340.44v2.0M210.05 340.44v2.0M215.60 340.44v2.0M221.15 340.44v2.0M226.70 340.44v2.0M232.25 340.44v2.0M237.80 340.44v2.0M243.35 340.44v2.0M248.90 340.44v2.0M254.45 340.44v2.0M260.00 340.44v2.0M265.55 340.44v2.0M271.10 340.44v2.0M276.65 340.44v2.0M282.20 340.44v2.0M287.75 340.44v2.0M293.30 340.44v2.0M298.85 340.44v2.0M304.40 340.44v2.0M309.95 340.44v2.0M315.50 340.44v2.0M321.05 340.44v2.0M326.60 340.44v2.0M332.15 340.44v2.0M337.70 340.44v2.0M343.25 340.44v2.0M348.80 340.44v2.0M354.35 340.44v2.0M149.00 334.47v2.0M154.55 334.47v2.0M160.10 334.47v2.0M165.65 334.47v2.0M171.20 334.47v2.0M176.75 334.47v2.0M182.30 334.47v2.0M187.85 334.47v2.0M193.40 334.47v2.0M198.95 334.47v2.0M204.50 334.47v2.0M210.05 334.47v2.0M215.60 334.47v2.0M221.15 334.47v2.0M226.70 334.47v2.0M232.25 334.47v2.0M237.80 334.47v2.0M243.35 334.47v2.0M248.90 334.47v2.0M254.45 334.47v2.0M260.00 334.47v2.0M265.55 334.47v2.0M271.10 334.47v2.0M276.65 334.47v2.0M282.20 334.47v2.0M287.75 334.47v2.0M293.30 334.47v2.0M298.85 334.47v2.0M304.40 334.47v2.0M309.95 334.47v2.0M315.50 334.47v2.0M321.05 334.47v2.0M326.60 334.47v2.0M332.15 334.47v2.0M337.70 334.47v2.0M343.25 334.47v2.0M348.80 334.47v2.0M354.35 334.47v2.0M149.00 322.53v2.0M154.55 322.53v2.0M160.10 322.53v2.0M165.65 322.53v2.0M171.20 322.53v2.0M176.75 322.53v2.0M182.30 322.53v2.0M187.85 322.53v2.0M193.40 322.53v2.0M198.95 322.53v2.0M204.50 322.53v2.0M210.05 322.53v2.0M215.60 322.53v2.0M221.15 322.53v2.0M226.70 322.53v2.0M232.25 322.53v2.0M237.80 322.53v2.0M243.35 322.53v2.0M248.90 322.53v2.0M254.45 322.53v2.0M260.00 322.53v2.0M265.55 322.53v2.0M271.10 322.53v2.0M276.65 322.53v2.0M282.20 322.53v2.0M287.75 322.53v2.0M293.30 322.53v2.0M298.85 322.53v2.0M304.40 322.53v2.0M309.95 322.53v2.0M315.50 322.53v2.0M321.05 322.53v2.0M326.60 322.53v2.0M332.15 322.53v2.0M337.70 322.53v2.0M343.25 322.53v2.0M348.80 322.53v2.0M354.35 322.53v2.0M149.00 316.56v2.0M154.55 316.56v2.0M160.10 316.56v2.0M165.65 316.56v2.0M171.20 316.56v2.0M176.75 316.56v2.0M182.30 316.56v2.0M187.85 316.56v2.0M193.40 316.56v2.0M198.95 316.56v2.0M204.50 316.56v2.0M210.05 316.56v2.0M215.60 316.56v2.0M221.15 316.56v2.0M226.70 316.56v2.0M232.25 316.56v2.0M237.80 316.56v2.0M243.35 316.56v2.0M248.90 316.56v2.0M254.45 316.56v2.0M260.00 316.56v2.0M265.55 316.56v2.0M271.10 316.56v2.0M276.65 316.56v2.0M282.20 316.56v2.0M287.75 316.56v2.0M293.30 316.56v2.0M298.85 316.56v2.0M304.40 316.56v2.0M309.95 316.56v2.0M315.50 316.56v2.0M321.05 316.56v2.0M326.60 316.56v2.0M332.15 316.56v2.0M337.70 316.56v2.0M343.25 316.56v2.0M348.80 316.56v2.0M354.35 316.56v2.0M149.00 310.59v2.0M154.55 310.59v2.0M160.10 310.59v2.0M165.65 310.59v2.0M171.20 310.59v2.0M176.75 310.59v2.0M182.30 310.59v2.0M187.85 310.59v2.0M193.40 310.59v2.0M198.95 310.59v2.0M204.50 310.59v2.0M210.05 310.59v2.0M215.60 310.59v2.0M221.15 310.59v2.0M226.70 310.59v2.0M232.25 310.59v2.0M237.80 310.59v2.0M243.35 310.59v2.0M248.90 310.59v2.0M254.45 310.59v2.0M260.00 310.59v2.0M265.55 310.59v2.0M271.10 310.59v2.0M276.65 310.59v2.0M282.20 310.59v2.0M287.75 310.59v2.0M293.30 310.59v2.0M298.85 310.59v2.0M304.40 310.59v2.0M309.95 310.59v2.0M315.50 310.59v2.0M321.05 310.59v2.0M326.60 310.59v2.0M332.15 310.59v2.0M337.70 310.59v2.0M343.25 310.59v2.0M348.80 310.59v2.0M354.35 310.59v2.0M149.00 304.62v2.0M154.55 304.62v2.0M160.10 304.62v2.0M165.65 304.62v2.0M171.20 304.62v2.0M176.75 304.62v2.0M182.30 304.62v2.0M187.85 304.62v2.0M193.40 304.62v2.0M198.95 304.62v2.0M204.50 304.62v2.0M210.05 304.62v2.0M215.60 304.62v2.0M221.15 304.62v2.0M226.70 304.62v2.0M232.25 304.62v2.0M237.80 304.62v2.0M243.35 304.62v2.0M248.90 304.62v2.0M254.45 304.62v2.0M260.00 304.62v2.0M265.55 304.62v2.0M271.10 304.62v2.0M276.65 304.62v2.0M282.20 304.62v2.0M287.75 304.62v2.0M293.30 304.62v2.0M298.85 304.62v2.0M304.40 304.62v2.0M309.95 304.62v2.0M315.50 304.62v2.0M321.05 304.62v2.0M326.60 304.62v2.0M332.15 304.62v2.0M337.70 304.62v2.0M343.25 304.62v2.0M348.80 304.62v2.0M354.35 304.62v2.0M492.00 349.70v2.0M497.55 349.70v2.0M503.10 349.70v2.0M508.65 349.70v2.0M514.20 349.70v2.0M519.75 349.70v2.0M525.30 349.70v2.0M530.85 349.70v2.0M536.40 349.70v2.0M541.95 349.70v2.0M547.50 349.70v2.0M553.05 349.70v2.0M558.60 349.70v2.0M564.15 349.70v2.0M569.70 349.70v2.0M575.25 349.70v2.0M580.80 349.70v2.0M586.35 349.70v2.0M591.90 349.70v2.0M597.45 349.70v2.0M603.00 349.70v2.0M608.55 349.70v2.0M614.10 349.70v2.0M619.65 349.70v2.0M625.20 349.70v2.0M630.75 349.70v2.0M636.30 349.70v2.0M641.85 349.70v2.0M647.40 349.70v2.0M652.95 349.70v2.0M658.50 349.70v2.0M664.05 349.70v2.0M669.60 349.70v2.0M675.15 349.70v2.0M680.70 349.70v2.0M686.25 349.70v2.0M691.80 349.70v2.0M697.35 349.70v2.0M492.00 341.10v2.0M497.55 341.10v2.0M503.10 341.10v2.0M508.65 341.10v2.0M514.20 341.10v2.0M519.75 341.10v2.0M525.30 341.10v2.0M530.85 341.10v2.0M536.40 341.10v2.0M541.95 341.10v2.0M547.50 341.10v2.0M553.05 341.10v2.0M558.60 341.10v2.0M564.15 341.10v2.0M569.70 341.10v2.0M575.25 341.10v2.0M580.80 341.10v2.0M586.35 341.10v2.0M591.90 341.10v2.0M597.45 341.10v2.0M603.00 341.10v2.0M608.55 341.10v2.0M614.10 341.10v2.0M619.65 341.10v2.0M625.20 341.10v2.0M630.75 341.10v2.0M636.30 341.10v2.0M641.85 341.10v2.0M647.40 341.10v2.0M652.95 341.10v2.0M658.50 341.10v2.0M664.05 341.10v2.0M669.60 341.10v2.0M675.15 341.10v2.0M680.70 341.10v2.0M686.25 341.10v2.0M691.80 341.10v2.0M697.35 341.10v2.0M492.00 332.50v2.0M497.55 332.50v2.0M503.10 332.50v2.0M508.65 332.50v2.0M514.20 332.50v2.0M519.75 332.50v2.0M525.30 332.50v2.0M530.85 332.50v2.0M536.40 332.50v2.0M541.95 332.50v2.0M547.50 332.50v2.0M553.05 332.50v2.0M558.60 332.50v2.0M564.15 332.50v2.0M569.70 332.50v2.0M575.25 332.50v2.0M580.80 332.50v2.0M586.35 332.50v2.0M591.90 332.50v2.0M597.45 332.50v2.0M603.00 332.50v2.0M608.55 332.50v2.0M614.10 332.50v2.0M619.65 332.50v2.0M625.20 332.50v2.0M630.75 332.50v2.0M636.30 332.50v2.0M641.85 332.50v2.0M647.40 332.50v2.0M652.95 332.50v2.0M658.50 332.50v2.0M664.05 332.50v2.0M669.60 332.50v2.0M675.15 332.50v2.0M680.70 332.50v2.0M686.25 332.50v2.0M691.80 332.50v2.0M697.35 332.50v2.0M492.00 323.90v2.0M497.55 323.90v2.0M503.10 323.90v2.0M508.65 323.90v2.0M514.20 323.90v2.0M519.75 323.90v2.0M525.30 323.90v2.0M530.85 323.90v2.0M536.40 323.90v2.0M541.95 323.90v2.0M547.50 323.90v2.0M553.05 323.90v2.0M558.60 323.90v2.0M564.15 323.90v2.0M569.70 323.90v2.0M575.25 323.90v2.0M580.80 323.90v2.0M586.35 323.90v2.0M591.90 323.90v2.0M597.45 323.90v2.0M603.00 323.90v2.0M608.55 323.90v2.0M614.10 323.90v2.0M619.65 323.90v2.0M625.20 323.90v2.0M630.75 323.90v2.0M636.30 323.90v2.0M641.85 323.90v2.0M647.40 323.90v2.0M652.95 323.90v2.0M658.50 323.90v2.0M664.05 323.90v2.0M669.60 323.90v2.0M675.15 323.90v2.0M680.70 323.90v2.0M686.25 323.90v2.0M691.80 323.90v2.0M697.35 323.90v2.0M492.00 306.70v2.0M497.55 306.70v2.0M503.10 306.70v2.0M508.65 306.70v2.0M514.20 306.70v2.0M519.75 306.70v2.0M525.30 306.70v2.0M530.85 306.70v2.0M536.40 306.70v2.0M541.95 306.70v2.0M547.50 306.70v2.0M553.05 306.70v2.0M558.60 306.70v2.0M564.15 306.70v2.0M569.70 306.70v2.0M575.25 306.70v2.0M580.80 306.70v2.0M586.35 306.70v2.0M591.90 306.70v2.0M597.45 306.70v2.0M603.00 306.70v2.0M608.55 306.70v2.0M614.10 306.70v2.0M619.65 306.70v2.0M625.20 306.70v2.0M630.75 306.70v2.0M636.30 306.70v2.0M641.85 306.70v2.0M647.40 306.70v2.0M652.95 306.70v2.0M658.50 306.70v2.0M664.05 306.70v2.0M669.60 306.70v2.0M675.15 306.70v2.0M680.70 306.70v2.0M686.25 306.70v2.0M691.80 306.70v2.0M697.35 306.70v2.0M149.00 478.85v2.0M154.55 478.85v2.0M160.10 478.85v2.0M165.65 478.85v2.0M171.20 478.85v2.0M176.75 478.85v2.0M182.30 478.85v2.0M187.85 478.85v2.0M193.40 478.85v2.0M198.95 478.85v2.0M204.50 478.85v2.0M210.05 478.85v2.0M215.60 478.85v2.0M221.15 478.85v2.0M226.70 478.85v2.0M232.25 478.85v2.0M237.80 478.85v2.0M243.35 478.85v2.0M248.90 478.85v2.0M254.45 478.85v2.0M260.00 478.85v2.0M265.55 478.85v2.0M271.10 478.85v2.0M276.65 478.85v2.0M282.20 478.85v2.0M287.75 478.85v2.0M293.30 478.85v2.0M298.85 478.85v2.0M304.40 478.85v2.0M309.95 478.85v2.0M315.50 478.85v2.0M321.05 478.85v2.0M326.60 478.85v2.0M332.15 478.85v2.0M337.70 478.85v2.0M343.25 478.85v2.0M348.80 478.85v2.0M354.35 478.85v2.0M149.00 471.40v2.0M154.55 471.40v2.0M160.10 471.40v2.0M165.65 471.40v2.0M171.20 471.40v2.0M176.75 471.40v2.0M182.30 471.40v2.0M187.85 471.40v2.0M193.40 471.40v2.0M198.95 471.40v2.0M204.50 471.40v2.0M210.05 471.40v2.0M215.60 471.40v2.0M221.15 471.40v2.0M226.70 471.40v2.0M232.25 471.40v2.0M237.80 471.40v2.0M243.35 471.40v2.0M248.90 471.40v2.0M254.45 471.40v2.0M260.00 471.40v2.0M265.55 471.40v2.0M271.10 471.40v2.0M276.65 471.40v2.0M282.20 471.40v2.0M287.75 471.40v2.0M293.30 471.40v2.0M298.85 471.40v2.0M304.40 471.40v2.0M309.95 471.40v2.0M315.50 471.40v2.0M321.05 471.40v2.0M326.60 471.40v2.0M332.15 471.40v2.0M337.70 471.40v2.0M343.25 471.40v2.0M348.80 471.40v2.0M354.35 471.40v2.0M149.00 463.95v2.0M154.55 463.95v2.0M160.10 463.95v2.0M165.65 463.95v2.0M171.20 463.95v2.0M176.75 463.95v2.0M182.30 463.95v2.0M187.85 463.95v2.0M193.40 463.95v2.0M198.95 463.95v2.0M204.50 463.95v2.0M210.05 463.95v2.0M215.60 463.95v2.0M221.15 463.95v2.0M226.70 463.95v2.0M232.25 463.95v2.0M237.80 463.95v2.0M243.35 463.95v2.0M248.90 463.95v2.0M254.45 463.95v2.0M260.00 463.95v2.0M265.55 463.95v2.0M271.10 463.95v2.0M276.65 463.95v2.0M282.20 463.95v2.0M287.75 463.95v2.0M293.30 463.95v2.0M298.85 463.95v2.0M304.40 463.95v2.0M309.95 463.95v2.0M315.50 463.95v2.0M321.05 463.95v2.0M326.60 463.95v2.0M332.15 463.95v2.0M337.70 463.95v2.0M343.25 463.95v2.0M348.80 463.95v2.0M354.35 463.95v2.0M149.00 449.05v2.0M154.55 449.05v2.0M160.10 449.05v2.0M165.65 449.05v2.0M171.20 449.05v2.0M176.75 449.05v2.0M182.30 449.05v2.0M187.85 449.05v2.0M193.40 449.05v2.0M198.95 449.05v2.0M204.50 449.05v2.0M210.05 449.05v2.0M215.60 449.05v2.0M221.15 449.05v2.0M226.70 449.05v2.0M232.25 449.05v2.0M237.80 449.05v2.0M243.35 449.05v2.0M248.90 449.05v2.0M254.45 449.05v2.0M260.00 449.05v2.0M265.55 449.05v2.0M271.10 449.05v2.0M276.65 449.05v2.0M282.20 449.05v2.0M287.75 449.05v2.0M293.30 449.05v2.0M298.85 449.05v2.0M304.40 449.05v2.0M309.95 449.05v2.0M315.50 449.05v2.0M321.05 449.05v2.0M326.60 449.05v2.0M332.15 449.05v2.0M337.70 449.05v2.0M343.25 449.05v2.0M348.80 449.05v2.0M354.35 449.05v2.0M149.00 441.60v2.0M154.55 441.60v2.0M160.10 441.60v2.0M165.65 441.60v2.0M171.20 441.60v2.0M176.75 441.60v2.0M182.30 441.60v2.0M187.85 441.60v2.0M193.40 441.60v2.0M198.95 441.60v2.0M204.50 441.60v2.0M210.05 441.60v2.0M215.60 441.60v2.0M221.15 441.60v2.0M226.70 441.60v2.0M232.25 441.60v2.0M237.80 441.60v2.0M243.35 441.60v2.0M248.90 441.60v2.0M254.45 441.60v2.0M260.00 441.60v2.0M265.55 441.60v2.0M271.10 441.60v2.0M276.65 441.60v2.0M282.20 441.60v2.0M287.75 441.60v2.0M293.30 441.60v2.0M298.85 441.60v2.0M304.40 441.60v2.0M309.95 441.60v2.0M315.50 441.60v2.0M321.05 441.60v2.0M326.60 441.60v2.0M332.15 441.60v2.0M337.70 441.60v2.0M343.25 441.60v2.0M348.80 441.60v2.0M354.35 441.60v2.0M149.00 434.15v2.0M154.55 434.15v2.0M160.10 434.15v2.0M165.65 434.15v2.0M171.20 434.15v2.0M176.75 434.15v2.0M182.30 434.15v2.0M187.85 434.15v2.0M193.40 434.15v2.0M198.95 434.15v2.0M204.50 434.15v2.0M210.05 434.15v2.0M215.60 434.15v2.0M221.15 434.15v2.0M226.70 434.15v2.0M232.25 434.15v2.0M237.80 434.15v2.0M243.35 434.15v2.0M248.90 434.15v2.0M254.45 434.15v2.0M260.00 434.15v2.0M265.55 434.15v2.0M271.10 434.15v2.0M276.65 434.15v2.0M282.20 434.15v2.0M287.75 434.15v2.0M293.30 434.15v2.0M298.85 434.15v2.0M304.40 434.15v2.0M309.95 434.15v2.0M315.50 434.15v2.0M321.05 434.15v2.0M326.60 434.15v2.0M332.15 434.15v2.0M337.70 434.15v2.0M343.25 434.15v2.0M348.80 434.15v2.0M354.35 434.15v2.0M492.00 480.34v2.0M497.55 480.34v2.0M503.10 480.34v2.0M508.65 480.34v2.0M514.20 480.34v2.0M519.75 480.34v2.0M525.30 480.34v2.0M530.85 480.34v2.0M536.40 480.34v2.0M541.95 480.34v2.0M547.50 480.34v2.0M553.05 480.34v2.0M558.60 480.34v2.0M564.15 480.34v2.0M569.70 480.34v2.0M575.25 480.34v2.0M580.80 480.34v2.0M586.35 480.34v2.0M591.90 480.34v2.0M597.45 480.34v2.0M603.00 480.34v2.0M608.55 480.34v2.0M614.10 480.34v2.0M619.65 480.34v2.0M625.20 480.34v2.0M630.75 480.34v2.0M636.30 480.34v2.0M641.85 480.34v2.0M647.40 480.34v2.0M652.95 480.34v2.0M658.50 480.34v2.0M664.05 480.34v2.0M669.60 480.34v2.0M675.15 480.34v2.0M680.70 480.34v2.0M686.25 480.34v2.0M691.80 480.34v2.0M697.35 480.34v2.0M492.00 474.38v2.0M497.55 474.38v2.0M503.10 474.38v2.0M508.65 474.38v2.0M514.20 474.38v2.0M519.75 474.38v2.0M525.30 474.38v2.0M530.85 474.38v2.0M536.40 474.38v2.0M541.95 474.38v2.0M547.50 474.38v2.0M553.05 474.38v2.0M558.60 474.38v2.0M564.15 474.38v2.0M569.70 474.38v2.0M575.25 474.38v2.0M580.80 474.38v2.0M586.35 474.38v2.0M591.90 474.38v2.0M597.45 474.38v2.0M603.00 474.38v2.0M608.55 474.38v2.0M614.10 474.38v2.0M619.65 474.38v2.0M625.20 474.38v2.0M630.75 474.38v2.0M636.30 474.38v2.0M641.85 474.38v2.0M647.40 474.38v2.0M652.95 474.38v2.0M658.50 474.38v2.0M664.05 474.38v2.0M669.60 474.38v2.0M675.15 474.38v2.0M680.70 474.38v2.0M686.25 474.38v2.0M691.80 474.38v2.0M697.35 474.38v2.0M492.00 468.42v2.0M497.55 468.42v2.0M503.10 468.42v2.0M508.65 468.42v2.0M514.20 468.42v2.0M519.75 468.42v2.0M525.30 468.42v2.0M530.85 468.42v2.0M536.40 468.42v2.0M541.95 468.42v2.0M547.50 468.42v2.0M553.05 468.42v2.0M558.60 468.42v2.0M564.15 468.42v2.0M569.70 468.42v2.0M575.25 468.42v2.0M580.80 468.42v2.0M586.35 468.42v2.0M591.90 468.42v2.0M597.45 468.42v2.0M603.00 468.42v2.0M608.55 468.42v2.0M614.10 468.42v2.0M619.65 468.42v2.0M625.20 468.42v2.0M630.75 468.42v2.0M636.30 468.42v2.0M641.85 468.42v2.0M647.40 468.42v2.0M652.95 468.42v2.0M658.50 468.42v2.0M664.05 468.42v2.0M669.60 468.42v2.0M675.15 468.42v2.0M680.70 468.42v2.0M686.25 468.42v2.0M691.80 468.42v2.0M697.35 468.42v2.0M492.00 462.46v2.0M497.55 462.46v2.0M503.10 462.46v2.0M508.65 462.46v2.0M514.20 462.46v2.0M519.75 462.46v2.0M525.30 462.46v2.0M530.85 462.46v2.0M536.40 462.46v2.0M541.95 462.46v2.0M547.50 462.46v2.0M553.05 462.46v2.0M558.60 462.46v2.0M564.15 462.46v2.0M569.70 462.46v2.0M575.25 462.46v2.0M580.80 462.46v2.0M586.35 462.46v2.0M591.90 462.46v2.0M597.45 462.46v2.0M603.00 462.46v2.0M608.55 462.46v2.0M614.10 462.46v2.0M619.65 462.46v2.0M625.20 462.46v2.0M630.75 462.46v2.0M636.30 462.46v2.0M641.85 462.46v2.0M647.40 462.46v2.0M652.95 462.46v2.0M658.50 462.46v2.0M664.05 462.46v2.0M669.60 462.46v2.0M675.15 462.46v2.0M680.70 462.46v2.0M686.25 462.46v2.0M691.80 462.46v2.0M697.35 462.46v2.0M492.00 450.54v2.0M497.55 450.54v2.0M503.10 450.54v2.0M508.65 450.54v2.0M514.20 450.54v2.0M519.75 450.54v2.0M525.30 450.54v2.0M530.85 450.54v2.0M536.40 450.54v2.0M541.95 450.54v2.0M547.50 450.54v2.0M553.05 450.54v2.0M558.60 450.54v2.0M564.15 450.54v2.0M569.70 450.54v2.0M575.25 450.54v2.0M580.80 450.54v2.0M586.35 450.54v2.0M591.90 450.54v2.0M597.45 450.54v2.0M603.00 450.54v2.0M608.55 450.54v2.0M614.10 450.54v2.0M619.65 450.54v2.0M625.20 450.54v2.0M630.75 450.54v2.0M636.30 450.54v2.0M641.85 450.54v2.0M647.40 450.54v2.0M652.95 450.54v2.0M658.50 450.54v2.0M664.05 450.54v2.0M669.60 450.54v2.0M675.15 450.54v2.0M680.70 450.54v2.0M686.25 450.54v2.0M691.80 450.54v2.0M697.35 450.54v2.0M492.00 444.58v2.0M497.55 444.58v2.0M503.10 444.58v2.0M508.65 444.58v2.0M514.20 444.58v2.0M519.75 444.58v2.0M525.30 444.58v2.0M530.85 444.58v2.0M536.40 444.58v2.0M541.95 444.58v2.0M547.50 444.58v2.0M553.05 444.58v2.0M558.60 444.58v2.0M564.15 444.58v2.0M569.70 444.58v2.0M575.25 444.58v2.0M580.80 444.58v2.0M586.35 444.58v2.0M591.90 444.58v2.0M597.45 444.58v2.0M603.00 444.58v2.0M608.55 444.58v2.0M614.10 444.58v2.0M619.65 444.58v2.0M625.20 444.58v2.0M630.75 444.58v2.0M636.30 444.58v2.0M641.85 444.58v2.0M647.40 444.58v2.0M652.95 444.58v2.0M658.50 444.58v2.0M664.05 444.58v2.0M669.60 444.58v2.0M675.15 444.58v2.0M680.70 444.58v2.0M686.25 444.58v2.0M691.80 444.58v2.0M697.35 444.58v2.0M492.00 438.62v2.0M497.55 438.62v2.0M503.10 438.62v2.0M508.65 438.62v2.0M514.20 438.62v2.0M519.75 438.62v2.0M525.30 438.62v2.0M530.85 438.62v2.0M536.40 438.62v2.0M541.95 438.62v2.0M547.50 438.62v2.0M553.05 438.62v2.0M558.60 438.62v2.0M564.15 438.62v2.0M569.70 438.62v2.0M575.25 438.62v2.0M580.80 438.62v2.0M586.35 438.62v2.0M591.90 438.62v2.0M597.45 438.62v2.0M603.00 438.62v2.0M608.55 438.62v2.0M614.10 438.62v2.0M619.65 438.62v2.0M625.20 438.62v2.0M630.75 438.62v2.0M636.30 438.62v2.0M641.85 438.62v2.0M647.40 438.62v2.0M652.95 438.62v2.0M658.50 438.62v2.0M664.05 438.62v2.0M669.60 438.62v2.0M675.15 438.62v2.0M680.70 438.62v2.0M686.25 438.62v2.0M691.80 438.62v2.0M697.35 438.62v2.0M492.00 432.66v2.0M497.55 432.66v2.0M503.10 432.66v2.0M508.65 432.66v2.0M514.20 432.66v2.0M519.75 432.66v2.0M525.30 432.66v2.0M530.85 432.66v2.0M536.40 432.66v2.0M541.95 432.66v2.0M547.50 432.66v2.0M553.05 432.66v2.0M558.60 432.66v2.0M564.15 432.66v2.0M569.70 432.66v2.0M575.25 432.66v2.0M580.80 432.66v2.0M586.35 432.66v2.0M591.90 432.66v2.0M597.45 432.66v2.0M603.00 432.66v2.0M608.55 432.66v2.0M614.10 432.66v2.0M619.65 432.66v2.0M625.20 432.66v2.0M630.75 432.66v2.0M636.30 432.66v2.0M641.85 432.66v2.0M647.40 432.66v2.0M652.95 432.66v2.0M658.50 432.66v2.0M664.05 432.66v2.0M669.60 432.66v2.0M675.15 432.66v2.0M680.70 432.66v2.0M686.25 432.66v2.0M691.80 432.66v2.0M697.35 432.66v2.0" stroke="#bfbfbf" stroke-width="1.2" fill="none"/>
<path d="M189.10 44.60V104.20M230.70 44.60V104.20M272.30 44.60V104.20M313.90 44.60V104.20M147.50 76.28H355.50M147.50 48.35H355.50M532.10 44.60V104.20M573.70 44.60V104.20M615.30 44.60V104.20M656.90 44.60V104.20M490.50 85.30H698.50M490.50 65.40H698.50M189.10 172.40V231.30M230.70 172.40V231.30M272.30 172.40V231.30M313.90 172.40V231.30M147.50 206.30H355.50M147.50 181.40H355.50M532.10 172.40V231.30M573.70 172.40V231.30M615.30 172.40V231.30M656.90 172.40V231.30M490.50 211.75H698.50M490.50 192.30H698.50M189.10 299.30V359.30M230.70 299.30V359.30M272.30 299.30V359.30M313.90 299.30V359.30M147.50 329.50H355.50M532.10 299.30V359.30M573.70 299.30V359.30M615.30 299.30V359.30M656.90 299.30V359.30M490.50 316.30H698.50M189.10 427.30V487.30M230.70 427.30V487.30M272.30 427.30V487.30M313.90 427.30V487.30M147.50 457.50H355.50M532.10 427.30V487.30M573.70 427.30V487.30M615.30 427.30V487.30M656.90 427.30V487.30M490.50 457.50H698.50" stroke="#dcdcdc" stroke-width="1.8" fill="none"/>
<path d="M147.50 44.60H355.50V104.20H147.50ZM147.50 104.20h3.0M355.50 104.20h-3.0M147.50 76.28h3.0M355.50 76.28h-3.0M147.50 48.35h3.0M355.50 48.35h-3.0M147.50 104.20v-3.0M147.50 44.60v3.0M189.10 104.20v-3.0M189.10 44.60v3.0M230.70 104.20v-3.0M230.70 44.60v3.0M272.30 104.20v-3.0M272.30 44.60v3.0M313.90 104.20v-3.0M313.90 44.60v3.0M355.50 104.20v-3.0M355.50 44.60v3.0M490.50 44.60H698.50V104.20H490.50ZM490.50 85.30h3.0M698.50 85.30h-3.0M490.50 65.40h3.0M698.50 65.40h-3.0M490.50 45.50h3.0M698.50 45.50h-3.0M490.50 104.20v-3.0M490.50 44.60v3.0M532.10 104.20v-3.0M532.10 44.60v3.0M573.70 104.20v-3.0M573.70 44.60v3.0M615.30 104.20v-3.0M615.30 44.60v3.0M656.90 104.20v-3.0M656.90 44.60v3.0M698.50 104.20v-3.0M698.50 44.60v3.0M147.50 172.40H355.50V231.30H147.50ZM147.50 231.20h3.0M355.50 231.20h-3.0M147.50 206.30h3.0M355.50 206.30h-3.0M147.50 181.40h3.0M355.50 181.40h-3.0M147.50 231.30v-3.0M147.50 172.40v3.0M189.10 231.30v-3.0M189.10 172.40v3.0M230.70 231.30v-3.0M230.70 172.40v3.0M272.30 231.30v-3.0M272.30 172.40v3.0M313.90 231.30v-3.0M313.90 172.40v3.0M355.50 231.30v-3.0M355.50 172.40v3.0M490.50 172.40H698.50V231.30H490.50ZM490.50 231.20h3.0M698.50 231.20h-3.0M490.50 211.75h3.0M698.50 211.75h-3.0M490.50 192.30h3.0M698.50 192.30h-3.0M490.50 231.30v-3.0M490.50 172.40v3.0M532.10 231.30v-3.0M532.10 172.40v3.0M573.70 231.30v-3.0M573.70 172.40v3.0M615.30 231.30v-3.0M615.30 172.40v3.0M656.90 231.30v-3.0M656.90 172.40v3.0M698.50 231.30v-3.0M698.50 172.40v3.0M147.50 299.30H355.50V359.30H147.50ZM147.50 359.35h3.0M355.50 359.35h-3.0M147.50 329.50h3.0M355.50 329.50h-3.0M147.50 299.65h3.0M355.50 299.65h-3.0M147.50 359.30v-3.0M147.50 299.30v3.0M189.10 359.30v-3.0M189.10 299.30v3.0M230.70 359.30v-3.0M230.70 299.30v3.0M272.30 359.30v-3.0M272.30 299.30v3.0M313.90 359.30v-3.0M313.90 299.30v3.0M355.50 359.30v-3.0M355.50 299.30v3.0M490.50 299.30H698.50V359.30H490.50ZM490.50 359.30h3.0M698.50 359.30h-3.0M490.50 316.30h3.0M698.50 316.30h-3.0M490.50 359.30v-3.0M490.50 299.30v3.0M532.10 359.30v-3.0M532.10 299.30v3.0M573.70 359.30v-3.0M573.70 299.30v3.0M615.30 359.30v-3.0M615.30 299.30v3.0M656.90 359.30v-3.0M656.90 299.30v3.0M698.50 359.30v-3.0M698.50 299.30v3.0M147.50 427.30H355.50V487.30H147.50ZM147.50 487.30h3.0M355.50 487.30h-3.0M147.50 457.50h3.0M355.50 457.50h-3.0M147.50 427.70h3.0M355.50 427.70h-3.0M147.50 487.30v-3.0M147.50 427.30v3.0M189.10 487.30v-3.0M189.10 427.30v3.0M230.70 487.30v-3.0M230.70 427.30v3.0M272.30 487.30v-3.0M272.30 427.30v3.0M313.90 487.30v-3.0M313.90 427.30v3.0M355.50 487.30v-3.0M355.50 427.30v3.0M490.50 427.30H698.50V487.30H490.50ZM490.50 487.30h3.0M698.50 487.30h-3.0M490.50 457.50h3.0M698.50 457.50h-3.0M490.50 427.70h3.0M698.50 427.70h-3.0M490.50 487.30v-3.0M490.50 427.30v3.0M532.10 487.30v-3.0M532.10 427.30v3.0M573.70 487.30v-3.0M573.70 427.30v3.0M615.30 487.30v-3.0M615.30 427.30v3.0M656.90 487.30v-3.0M656.90 427.30v3.0M698.50 487.30v-3.0M698.50 427.30v3.0" stroke="#262626" stroke-width="1.9" fill="none" stroke-linejoin="miter" stroke-linecap="square"/>
<path d="M166.1 44.6a4.1 4.1 0 1 0 -8.2 0a4.1 4.1 0 1 0 8.2 0M167.8 44.6a4.1 4.1 0 1 0 -8.2 0a4.1 4.1 0 1 0 8.2 0M169.5 44.6a4.1 4.1 0 1 0 -8.2 0a4.1 4.1 0 1 0 8.2 0M171.2 44.7a4.1 4.1 0 1 0 -8.2 0a4.1 4.1 0 1 0 8.2 0M172.9 44.7a4.1 4.1 0 1 0 -8.2 0a4.1 4.1 0 1 0 8.2 0M174.6 44.7a4.1 4.1 0 1 0 -8.2 0a4.1 4.1 0 1 0 8.2 0M176.4 44.7a4.1 4.1 0 1 0 -8.2 0a4.1 4.1 0 1 0 8.2 0M178.1 44.8a4.1 4.1 0 1 0 -8.2 0a4.1 4.1 0 1 0 8.2 0M179.8 44.8a4.1 4.1 0 1 0 -8.2 0a4.1 4.1 0 1 0 8.2 0M181.5 44.8a4.1 4.1 0 1 0 -8.2 0a4.1 4.1 0 1 0 8.2 0M183.2 45.7a4.1 4.1 0 1 0 -8.2 0a4.1 4.1 0 1 0 8.2 0M184.9 46.6a4.1 4.1 0 1 0 -8.2 0a4.1 4.1 0 1 0 8.2 0M186.6 47.3a4.1 4.1 0 1 0 -8.2 0a4.1 4.1 0 1 0 8.2 0M188.3 47.4a4.1 4.1 0 1 0 -8.2 0a4.1 4.1 0 1 0 8.2 0M190.0 47.5a4.1 4.1 0 1 0 -8.2 0a4.1 4.1 0 1 0 8.2 0M191.7 48.0a4.1 4.1 0 1 0 -8.2 0a4.1 4.1 0 1 0 8.2 0M193.5 48.4a4.1 4.1 0 1 0 -8.2 0a4.1 4.1 0 1 0 8.2 0M195.2 48.9a4.1 4.1 0 1 0 -8.2 0a4.1 4.1 0 1 0 8.2 0M196.9 50.2a4.1 4.1 0 1 0 -8.2 0a4.1 4.1 0 1 0 8.2 0M198.6 51.8a4.1 4.1 0 1 0 -8.2 0a4.1 4.1 0 1 0 8.2 0M200.3 53.5a4.1 4.1 0 1 0 -8.2 0a4.1 4.1 0 1 0 8.2 0M202.0 55.2a4.1 4.1 0 1 0 -8.2 0a4.1 4.1 0 1 0 8.2 0M203.7 55.9a4.1 4.1 0 1 0 -8.2 0a4.1 4.1 0 1 0 8.2 0M205.4 55.7a4.1 4.1 0 1 0 -8.2 0a4.1 4.1 0 1 0 8.2 0M207.1 55.5a4.1 4.1 0 1 0 -8.2 0a4.1 4.1 0 1 0 8.2 0M208.8 55.2a4.1 4.1 0 1 0 -8.2 0a4.1 4.1 0 1 0 8.2 0M210.6 54.9a4.1 4.1 0 1 0 -8.2 0a4.1 4.1 0 1 0 8.2 0M212.3 54.5a4.1 4.1 0 1 0 -8.2 0a4.1 4.1 0 1 0 8.2 0M214.0 54.2a4.1 4.1 0 1 0 -8.2 0a4.1 4.1 0 1 0 8.2 0M215.7 53.9a4.1 4.1 0 1 0 -8.2 0a4.1 4.1 0 1 0 8.2 0M217.4 53.9a4.1 4.1 0 1 0 -8.2 0a4.1 4.1 0 1 0 8.2 0M219.1 55.0a4.1 4.1 0 1 0 -8.2 0a4.1 4.1 0 1 0 8.2 0M185.9 54.8a4.1 4.1 0 1 0 -8.2 0a4.1 4.1 0 1 0 8.2 0M183.1 52.0a4.1 4.1 0 1 0 -8.2 0a4.1 4.1 0 1 0 8.2 0M219.1 59.8a4.1 4.1 0 1 0 -8.2 0a4.1 4.1 0 1 0 8.2 0M220.5 73.9a4.1 4.1 0 1 0 -8.2 0a4.1 4.1 0 1 0 8.2 0M222.6 87.3a4.1 4.1 0 1 0 -8.2 0a4.1 4.1 0 1 0 8.2 0M226.2 98.7a4.1 4.1 0 1 0 -8.2 0a4.1 4.1 0 1 0 8.2 0M227.6 95.8a4.1 4.1 0 1 0 -8.2 0a4.1 4.1 0 1 0 8.2 0M229.0 92.3a4.1 4.1 0 1 0 -8.2 0a4.1 4.1 0 1 0 8.2 0M230.4 88.7a4.1 4.1 0 1 0 -8.2 0a4.1 4.1 0 1 0 8.2 0M232.6 83.8a4.1 4.1 0 1 0 -8.2 0a4.1 4.1 0 1 0 8.2 0M234.0 80.3a4.1 4.1 0 1 0 -8.2 0a4.1 4.1 0 1 0 8.2 0M235.7 81.2a4.1 4.1 0 1 0 -8.2 0a4.1 4.1 0 1 0 8.2 0M237.4 82.0a4.1 4.1 0 1 0 -8.2 0a4.1 4.1 0 1 0 8.2 0M239.2 82.9a4.1 4.1 0 1 0 -8.2 0a4.1 4.1 0 1 0 8.2 0M240.9 83.7a4.1 4.1 0 1 0 -8.2 0a4.1 4.1 0 1 0 8.2 0M242.6 84.0a4.1 4.1 0 1 0 -8.2 0a4.1 4.1 0 1 0 8.2 0M244.3 84.1a4.1 4.1 0 1 0 -8.2 0a4.1 4.1 0 1 0 8.2 0M246.1 84.3a4.1 4.1 0 1 0 -8.2 0a4.1 4.1 0 1 0 8.2 0M247.8 84.5a4.1 4.1 0 1 0 -8.2 0a4.1 4.1 0 1 0 8.2 0M249.5 83.5a4.1 4.1 0 1 0 -8.2 0a4.1 4.1 0 1 0 8.2 0M251.2 82.2a4.1 4.1 0 1 0 -8.2 0a4.1 4.1 0 1 0 8.2 0M252.9 80.9a4.1 4.1 0 1 0 -8.2 0a4.1 4.1 0 1 0 8.2 0M254.7 79.2a4.1 4.1 0 1 0 -8.2 0a4.1 4.1 0 1 0 8.2 0M256.4 77.0a4.1 4.1 0 1 0 -8.2 0a4.1 4.1 0 1 0 8.2 0M258.1 74.8a4.1 4.1 0 1 0 -8.2 0a4.1 4.1 0 1 0 8.2 0M259.8 72.8a4.1 4.1 0 1 0 -8.2 0a4.1 4.1 0 1 0 8.2 0M261.6 70.8a4.1 4.1 0 1 0 -8.2 0a4.1 4.1 0 1 0 8.2 0M263.3 68.9a4.1 4.1 0 1 0 -8.2 0a4.1 4.1 0 1 0 8.2 0M265.0 66.9a4.1 4.1 0 1 0 -8.2 0a4.1 4.1 0 1 0 8.2 0M266.7 64.9a4.1 4.1 0 1 0 -8.2 0a4.1 4.1 0 1 0 8.2 0M268.4 63.1a4.1 4.1 0 1 0 -8.2 0a4.1 4.1 0 1 0 8.2 0M270.2 63.1a4.1 4.1 0 1 0 -8.2 0a4.1 4.1 0 1 0 8.2 0M271.9 63.1a4.1 4.1 0 1 0 -8.2 0a4.1 4.1 0 1 0 8.2 0M273.6 63.1a4.1 4.1 0 1 0 -8.2 0a4.1 4.1 0 1 0 8.2 0M275.3 63.1a4.1 4.1 0 1 0 -8.2 0a4.1 4.1 0 1 0 8.2 0M277.1 62.3a4.1 4.1 0 1 0 -8.2 0a4.1 4.1 0 1 0 8.2 0M278.8 61.2a4.1 4.1 0 1 0 -8.2 0a4.1 4.1 0 1 0 8.2 0M280.5 60.1a4.1 4.1 0 1 0 -8.2 0a4.1 4.1 0 1 0 8.2 0M282.2 59.1a4.1 4.1 0 1 0 -8.2 0a4.1 4.1 0 1 0 8.2 0M283.9 58.4a4.1 4.1 0 1 0 -8.2 0a4.1 4.1 0 1 0 8.2 0M285.7 57.7a4.1 4.1 0 1 0 -8.2 0a4.1 4.1 0 1 0 8.2 0M287.4 57.0a4.1 4.1 0 1 0 -8.2 0a4.1 4.1 0 1 0 8.2 0M289.1 56.3a4.1 4.1 0 1 0 -8.2 0a4.1 4.1 0 1 0 8.2 0M290.8 55.7a4.1 4.1 0 1 0 -8.2 0a4.1 4.1 0 1 0 8.2 0M292.5 55.5a4.1 4.1 0 1 0 -8.2 0a4.1 4.1 0 1 0 8.2 0M294.3 55.3a4.1 4.1 0 1 0 -8.2 0a4.1 4.1 0 1 0 8.2 0M296.0 55.2a4.1 4.1 0 1 0 -8.2 0a4.1 4.1 0 1 0 8.2 0M297.7 55.0a4.1 4.1 0 1 0 -8.2 0a4.1 4.1 0 1 0 8.2 0M299.4 54.4a4.1 4.1 0 1 0 -8.2 0a4.1 4.1 0 1 0 8.2 0M301.2 53.8a4.1 4.1 0 1 0 -8.2 0a4.1 4.1 0 1 0 8.2 0M302.9 53.2a4.1 4.1 0 1 0 -8.2 0a4.1 4.1 0 1 0 8.2 0M304.6 52.6a4.1 4.1 0 1 0 -8.2 0a4.1 4.1 0 1 0 8.2 0M306.3 52.0a4.1 4.1 0 1 0 -8.2 0a4.1 4.1 0 1 0 8.2 0M308.0 51.4a4.1 4.1 0 1 0 -8.2 0a4.1 4.1 0 1 0 8.2 0M309.8 50.2a4.1 4.1 0 1 0 -8.2 0a4.1 4.1 0 1 0 8.2 0M311.5 49.1a4.1 4.1 0 1 0 -8.2 0a4.1 4.1 0 1 0 8.2 0M313.2 47.9a4.1 4.1 0 1 0 -8.2 0a4.1 4.1 0 1 0 8.2 0M314.9 46.7a4.1 4.1 0 1 0 -8.2 0a4.1 4.1 0 1 0 8.2 0M316.7 45.8a4.1 4.1 0 1 0 -8.2 0a4.1 4.1 0 1 0 8.2 0M318.4 45.0a4.1 4.1 0 1 0 -8.2 0a4.1 4.1 0 1 0 8.2 0M320.1 44.2a4.1 4.1 0 1 0 -8.2 0a4.1 4.1 0 1 0 8.2 0M321.8 44.2a4.1 4.1 0 1 0 -8.2 0a4.1 4.1 0 1 0 8.2 0M323.5 44.2a4.1 4.1 0 1 0 -8.2 0a4.1 4.1 0 1 0 8.2 0M325.3 44.2a4.1 4.1 0 1 0 -8.2 0a4.1 4.1 0 1 0 8.2 0M327.0 44.3a4.1 4.1 0 1 0 -8.2 0a4.1 4.1 0 1 0 8.2 0M328.7 44.3a4.1 4.1 0 1 0 -8.2 0a4.1 4.1 0 1 0 8.2 0M330.4 44.3a4.1 4.1 0 1 0 -8.2 0a4.1 4.1 0 1 0 8.2 0M332.2 44.3a4.1 4.1 0 1 0 -8.2 0a4.1 4.1 0 1 0 8.2 0M333.9 44.5a4.1 4.1 0 1 0 -8.2 0a4.1 4.1 0 1 0 8.2 0M335.6 44.6a4.1 4.1 0 1 0 -8.2 0a4.1 4.1 0 1 0 8.2 0" stroke="#0072BD" stroke-width="2.0" fill="none"/>
<path d="M509.6 99.4a4.1 4.1 0 1 0 -8.2 0a4.1 4.1 0 1 0 8.2 0M511.7 102.9a4.1 4.1 0 1 0 -8.2 0a4.1 4.1 0 1 0 8.2 0M515.3 102.2a4.1 4.1 0 1 0 -8.2 0a4.1 4.1 0 1 0 8.2 0M518.8 100.8a4.1 4.1 0 1 0 -8.2 0a4.1 4.1 0 1 0 8.2 0M522.3 98.6a4.1 4.1 0 1 0 -8.2 0a4.1 4.1 0 1 0 8.2 0M523.8 90.2a4.1 4.1 0 1 0 -8.2 0a4.1 4.1 0 1 0 8.2 0M527.3 90.9a4.1 4.1 0 1 0 -8.2 0a4.1 4.1 0 1 0 8.2 0M531.5 85.9a4.1 4.1 0 1 0 -8.2 0a4.1 4.1 0 1 0 8.2 0M534.4 87.3a4.1 4.1 0 1 0 -8.2 0a4.1 4.1 0 1 0 8.2 0M532.9 95.8a4.1 4.1 0 1 0 -8.2 0a4.1 4.1 0 1 0 8.2 0M535.8 75.3a4.1 4.1 0 1 0 -8.2 0a4.1 4.1 0 1 0 8.2 0M537.9 71.8a4.1 4.1 0 1 0 -8.2 0a4.1 4.1 0 1 0 8.2 0M538.6 67.5a4.1 4.1 0 1 0 -8.2 0a4.1 4.1 0 1 0 8.2 0M542.1 65.4a4.1 4.1 0 1 0 -8.2 0a4.1 4.1 0 1 0 8.2 0M543.6 59.0a4.1 4.1 0 1 0 -8.2 0a4.1 4.1 0 1 0 8.2 0M513.1 101.5a4.1 4.1 0 1 0 -8.2 0a4.1 4.1 0 1 0 8.2 0M520.1 99.5a4.1 4.1 0 1 0 -8.2 0a4.1 4.1 0 1 0 8.2 0M525.1 95.0a4.1 4.1 0 1 0 -8.2 0a4.1 4.1 0 1 0 8.2 0M529.1 89.0a4.1 4.1 0 1 0 -8.2 0a4.1 4.1 0 1 0 8.2 0M543.6 59.0a4.1 4.1 0 1 0 -8.2 0a4.1 4.1 0 1 0 8.2 0M545.3 58.0a4.1 4.1 0 1 0 -8.2 0a4.1 4.1 0 1 0 8.2 0M547.1 57.0a4.1 4.1 0 1 0 -8.2 0a4.1 4.1 0 1 0 8.2 0M548.8 56.0a4.1 4.1 0 1 0 -8.2 0a4.1 4.1 0 1 0 8.2 0M550.6 55.0a4.1 4.1 0 1 0 -8.2 0a4.1 4.1 0 1 0 8.2 0M552.3 54.0a4.1 4.1 0 1 0 -8.2 0a4.1 4.1 0 1 0 8.2 0M554.0 52.9a4.1 4.1 0 1 0 -8.2 0a4.1 4.1 0 1 0 8.2 0M555.8 51.9a4.1 4.1 0 1 0 -8.2 0a4.1 4.1 0 1 0 8.2 0M557.5 51.0a4.1 4.1 0 1 0 -8.2 0a4.1 4.1 0 1 0 8.2 0M559.3 50.1a4.1 4.1 0 1 0 -8.2 0a4.1 4.1 0 1 0 8.2 0M561.0 49.2a4.1 4.1 0 1 0 -8.2 0a4.1 4.1 0 1 0 8.2 0M562.7 48.3a4.1 4.1 0 1 0 -8.2 0a4.1 4.1 0 1 0 8.2 0M564.5 46.8a4.1 4.1 0 1 0 -8.2 0a4.1 4.1 0 1 0 8.2 0M566.2 45.2a4.1 4.1 0 1 0 -8.2 0a4.1 4.1 0 1 0 8.2 0M568.0 43.7a4.1 4.1 0 1 0 -8.2 0a4.1 4.1 0 1 0 8.2 0M569.7 43.5a4.1 4.1 0 1 0 -8.2 0a4.1 4.1 0 1 0 8.2 0M571.4 45.2a4.1 4.1 0 1 0 -8.2 0a4.1 4.1 0 1 0 8.2 0M573.2 46.9a4.1 4.1 0 1 0 -8.2 0a4.1 4.1 0 1 0 8.2 0M574.9 48.1a4.1 4.1 0 1 0 -8.2 0a4.1 4.1 0 1 0 8.2 0M576.7 48.8a4.1 4.1 0 1 0 -8.2 0a4.1 4.1 0 1 0 8.2 0M578.4 49.5a4.1 4.1 0 1 0 -8.2 0a4.1 4.1 0 1 0 8.2 0M580.1 50.2a4.1 4.1 0 1 0 -8.2 0a4.1 4.1 0 1 0 8.2 0M581.9 50.7a4.1 4.1 0 1 0 -8.2 0a4.1 4.1 0 1 0 8.2 0M583.6 50.9a4.1 4.1 0 1 0 -8.2 0a4.1 4.1 0 1 0 8.2 0M585.4 51.1a4.1 4.1 0 1 0 -8.2 0a4.1 4.1 0 1 0 8.2 0M587.1 51.3a4.1 4.1 0 1 0 -8.2 0a4.1 4.1 0 1 0 8.2 0M588.8 51.4a4.1 4.1 0 1 0 -8.2 0a4.1 4.1 0 1 0 8.2 0M590.6 51.6a4.1 4.1 0 1 0 -8.2 0a4.1 4.1 0 1 0 8.2 0M592.3 51.8a4.1 4.1 0 1 0 -8.2 0a4.1 4.1 0 1 0 8.2 0M594.1 52.0a4.1 4.1 0 1 0 -8.2 0a4.1 4.1 0 1 0 8.2 0M595.8 52.2a4.1 4.1 0 1 0 -8.2 0a4.1 4.1 0 1 0 8.2 0M597.5 52.3a4.1 4.1 0 1 0 -8.2 0a4.1 4.1 0 1 0 8.2 0M599.3 52.5a4.1 4.1 0 1 0 -8.2 0a4.1 4.1 0 1 0 8.2 0M601.0 52.7a4.1 4.1 0 1 0 -8.2 0a4.1 4.1 0 1 0 8.2 0M602.8 53.5a4.1 4.1 0 1 0 -8.2 0a4.1 4.1 0 1 0 8.2 0M604.5 54.4a4.1 4.1 0 1 0 -8.2 0a4.1 4.1 0 1 0 8.2 0M606.2 55.2a4.1 4.1 0 1 0 -8.2 0a4.1 4.1 0 1 0 8.2 0M608.0 56.1a4.1 4.1 0 1 0 -8.2 0a4.1 4.1 0 1 0 8.2 0M609.7 57.0a4.1 4.1 0 1 0 -8.2 0a4.1 4.1 0 1 0 8.2 0M611.5 57.8a4.1 4.1 0 1 0 -8.2 0a4.1 4.1 0 1 0 8.2 0M613.2 58.7a4.1 4.1 0 1 0 -8.2 0a4.1 4.1 0 1 0 8.2 0M615.0 58.5a4.1 4.1 0 1 0 -8.2 0a4.1 4.1 0 1 0 8.2 0M616.7 57.6a4.1 4.1 0 1 0 -8.2 0a4.1 4.1 0 1 0 8.2 0M618.4 56.8a4.1 4.1 0 1 0 -8.2 0a4.1 4.1 0 1 0 8.2 0M620.2 56.4a4.1 4.1 0 1 0 -8.2 0a4.1 4.1 0 1 0 8.2 0M621.9 57.2a4.1 4.1 0 1 0 -8.2 0a4.1 4.1 0 1 0 8.2 0M623.7 58.0a4.1 4.1 0 1 0 -8.2 0a4.1 4.1 0 1 0 8.2 0M625.4 58.7a4.1 4.1 0 1 0 -8.2 0a4.1 4.1 0 1 0 8.2 0M627.1 59.5a4.1 4.1 0 1 0 -8.2 0a4.1 4.1 0 1 0 8.2 0M628.9 60.2a4.1 4.1 0 1 0 -8.2 0a4.1 4.1 0 1 0 8.2 0M630.6 61.1a4.1 4.1 0 1 0 -8.2 0a4.1 4.1 0 1 0 8.2 0M632.4 62.1a4.1 4.1 0 1 0 -8.2 0a4.1 4.1 0 1 0 8.2 0M634.1 63.1a4.1 4.1 0 1 0 -8.2 0a4.1 4.1 0 1 0 8.2 0M635.8 64.0a4.1 4.1 0 1 0 -8.2 0a4.1 4.1 0 1 0 8.2 0M637.6 65.0a4.1 4.1 0 1 0 -8.2 0a4.1 4.1 0 1 0 8.2 0M639.3 66.0a4.1 4.1 0 1 0 -8.2 0a4.1 4.1 0 1 0 8.2 0M641.1 66.9a4.1 4.1 0 1 0 -8.2 0a4.1 4.1 0 1 0 8.2 0M642.8 67.2a4.1 4.1 0 1 0 -8.2 0a4.1 4.1 0 1 0 8.2 0M644.5 67.6a4.1 4.1 0 1 0 -8.2 0a4.1 4.1 0 1 0 8.2 0M646.3 68.0a4.1 4.1 0 1 0 -8.2 0a4.1 4.1 0 1 0 8.2 0M648.0 68.4a4.1 4.1 0 1 0 -8.2 0a4.1 4.1 0 1 0 8.2 0M649.8 68.8a4.1 4.1 0 1 0 -8.2 0a4.1 4.1 0 1 0 8.2 0M651.5 69.6a4.1 4.1 0 1 0 -8.2 0a4.1 4.1 0 1 0 8.2 0M653.2 70.9a4.1 4.1 0 1 0 -8.2 0a4.1 4.1 0 1 0 8.2 0M655.0 72.2a4.1 4.1 0 1 0 -8.2 0a4.1 4.1 0 1 0 8.2 0M656.7 73.9a4.1 4.1 0 1 0 -8.2 0a4.1 4.1 0 1 0 8.2 0M658.5 76.8a4.1 4.1 0 1 0 -8.2 0a4.1 4.1 0 1 0 8.2 0M660.2 79.6a4.1 4.1 0 1 0 -8.2 0a4.1 4.1 0 1 0 8.2 0M661.9 80.7a4.1 4.1 0 1 0 -8.2 0a4.1 4.1 0 1 0 8.2 0M663.7 81.3a4.1 4.1 0 1 0 -8.2 0a4.1 4.1 0 1 0 8.2 0M665.4 81.5a4.1 4.1 0 1 0 -8.2 0a4.1 4.1 0 1 0 8.2 0M667.2 80.9a4.1 4.1 0 1 0 -8.2 0a4.1 4.1 0 1 0 8.2 0M668.9 80.4a4.1 4.1 0 1 0 -8.2 0a4.1 4.1 0 1 0 8.2 0M670.6 80.8a4.1 4.1 0 1 0 -8.2 0a4.1 4.1 0 1 0 8.2 0M672.4 81.4a4.1 4.1 0 1 0 -8.2 0a4.1 4.1 0 1 0 8.2 0M674.1 82.0a4.1 4.1 0 1 0 -8.2 0a4.1 4.1 0 1 0 8.2 0M675.9 82.5a4.1 4.1 0 1 0 -8.2 0a4.1 4.1 0 1 0 8.2 0M677.6 83.1a4.1 4.1 0 1 0 -8.2 0a4.1 4.1 0 1 0 8.2 0" stroke="#0072BD" stroke-width="2.0" fill="none"/>
<path d="M166.8 218.0a4.1 4.1 0 1 0 -8.2 0a4.1 4.1 0 1 0 8.2 0M167.5 222.2a4.1 4.1 0 1 0 -8.2 0a4.1 4.1 0 1 0 8.2 0M171.0 223.6a4.1 4.1 0 1 0 -8.2 0a4.1 4.1 0 1 0 8.2 0M174.6 222.2a4.1 4.1 0 1 0 -8.2 0a4.1 4.1 0 1 0 8.2 0M177.4 219.4a4.1 4.1 0 1 0 -8.2 0a4.1 4.1 0 1 0 8.2 0M180.9 216.6a4.1 4.1 0 1 0 -8.2 0a4.1 4.1 0 1 0 8.2 0M181.6 208.1a4.1 4.1 0 1 0 -8.2 0a4.1 4.1 0 1 0 8.2 0M185.9 219.4a4.1 4.1 0 1 0 -8.2 0a4.1 4.1 0 1 0 8.2 0M186.6 222.9a4.1 4.1 0 1 0 -8.2 0a4.1 4.1 0 1 0 8.2 0M188.0 208.8a4.1 4.1 0 1 0 -8.2 0a4.1 4.1 0 1 0 8.2 0M190.1 218.0a4.1 4.1 0 1 0 -8.2 0a4.1 4.1 0 1 0 8.2 0M191.5 208.1a4.1 4.1 0 1 0 -8.2 0a4.1 4.1 0 1 0 8.2 0M183.1 213.7a4.1 4.1 0 1 0 -8.2 0a4.1 4.1 0 1 0 8.2 0M172.6 221.0a4.1 4.1 0 1 0 -8.2 0a4.1 4.1 0 1 0 8.2 0M179.1 218.5a4.1 4.1 0 1 0 -8.2 0a4.1 4.1 0 1 0 8.2 0M184.1 216.0a4.1 4.1 0 1 0 -8.2 0a4.1 4.1 0 1 0 8.2 0M189.1 215.0a4.1 4.1 0 1 0 -8.2 0a4.1 4.1 0 1 0 8.2 0M192.2 196.1a4.1 4.1 0 1 0 -8.2 0a4.1 4.1 0 1 0 8.2 0M194.8 193.5a4.1 4.1 0 1 0 -8.2 0a4.1 4.1 0 1 0 8.2 0M197.3 189.6a4.1 4.1 0 1 0 -8.2 0a4.1 4.1 0 1 0 8.2 0M199.8 187.1a4.1 4.1 0 1 0 -8.2 0a4.1 4.1 0 1 0 8.2 0M202.4 184.8a4.1 4.1 0 1 0 -8.2 0a4.1 4.1 0 1 0 8.2 0M204.9 183.1a4.1 4.1 0 1 0 -8.2 0a4.1 4.1 0 1 0 8.2 0M207.5 180.2a4.1 4.1 0 1 0 -8.2 0a4.1 4.1 0 1 0 8.2 0M210.0 176.9a4.1 4.1 0 1 0 -8.2 0a4.1 4.1 0 1 0 8.2 0M212.6 174.3a4.1 4.1 0 1 0 -8.2 0a4.1 4.1 0 1 0 8.2 0M215.1 171.9a4.1 4.1 0 1 0 -8.2 0a4.1 4.1 0 1 0 8.2 0M217.7 169.9a4.1 4.1 0 1 0 -8.2 0a4.1 4.1 0 1 0 8.2 0M195.6 188.5a4.1 4.1 0 1 0 -8.2 0a4.1 4.1 0 1 0 8.2 0M200.1 183.0a4.1 4.1 0 1 0 -8.2 0a4.1 4.1 0 1 0 8.2 0M204.1 180.5a4.1 4.1 0 1 0 -8.2 0a4.1 4.1 0 1 0 8.2 0M208.1 178.5a4.1 4.1 0 1 0 -8.2 0a4.1 4.1 0 1 0 8.2 0M219.1 179.8a4.1 4.1 0 1 0 -8.2 0a4.1 4.1 0 1 0 8.2 0M220.5 198.9a4.1 4.1 0 1 0 -8.2 0a4.1 4.1 0 1 0 8.2 0M222.6 217.3a4.1 4.1 0 1 0 -8.2 0a4.1 4.1 0 1 0 8.2 0M226.2 232.1a4.1 4.1 0 1 0 -8.2 0a4.1 4.1 0 1 0 8.2 0M226.9 227.9a4.1 4.1 0 1 0 -8.2 0a4.1 4.1 0 1 0 8.2 0M228.3 224.4a4.1 4.1 0 1 0 -8.2 0a4.1 4.1 0 1 0 8.2 0M229.7 220.8a4.1 4.1 0 1 0 -8.2 0a4.1 4.1 0 1 0 8.2 0M231.1 216.6a4.1 4.1 0 1 0 -8.2 0a4.1 4.1 0 1 0 8.2 0M233.3 209.5a4.1 4.1 0 1 0 -8.2 0a4.1 4.1 0 1 0 8.2 0M235.4 209.5a4.1 4.1 0 1 0 -8.2 0a4.1 4.1 0 1 0 8.2 0M237.1 211.7a4.1 4.1 0 1 0 -8.2 0a4.1 4.1 0 1 0 8.2 0M238.9 213.9a4.1 4.1 0 1 0 -8.2 0a4.1 4.1 0 1 0 8.2 0M240.6 216.1a4.1 4.1 0 1 0 -8.2 0a4.1 4.1 0 1 0 8.2 0M242.4 217.3a4.1 4.1 0 1 0 -8.2 0a4.1 4.1 0 1 0 8.2 0M244.1 218.1a4.1 4.1 0 1 0 -8.2 0a4.1 4.1 0 1 0 8.2 0M245.8 219.0a4.1 4.1 0 1 0 -8.2 0a4.1 4.1 0 1 0 8.2 0M247.6 218.5a4.1 4.1 0 1 0 -8.2 0a4.1 4.1 0 1 0 8.2 0M249.3 216.8a4.1 4.1 0 1 0 -8.2 0a4.1 4.1 0 1 0 8.2 0M251.1 215.0a4.1 4.1 0 1 0 -8.2 0a4.1 4.1 0 1 0 8.2 0M252.8 213.3a4.1 4.1 0 1 0 -8.2 0a4.1 4.1 0 1 0 8.2 0M254.5 211.3a4.1 4.1 0 1 0 -8.2 0a4.1 4.1 0 1 0 8.2 0M256.3 209.1a4.1 4.1 0 1 0 -8.2 0a4.1 4.1 0 1 0 8.2 0M258.0 206.9a4.1 4.1 0 1 0 -8.2 0a4.1 4.1 0 1 0 8.2 0M259.8 204.8a4.1 4.1 0 1 0 -8.2 0a4.1 4.1 0 1 0 8.2 0M261.5 202.7a4.1 4.1 0 1 0 -8.2 0a4.1 4.1 0 1 0 8.2 0M263.2 200.5a4.1 4.1 0 1 0 -8.2 0a4.1 4.1 0 1 0 8.2 0M265.0 198.4a4.1 4.1 0 1 0 -8.2 0a4.1 4.1 0 1 0 8.2 0M266.7 196.3a4.1 4.1 0 1 0 -8.2 0a4.1 4.1 0 1 0 8.2 0M268.5 194.8a4.1 4.1 0 1 0 -8.2 0a4.1 4.1 0 1 0 8.2 0M270.2 194.0a4.1 4.1 0 1 0 -8.2 0a4.1 4.1 0 1 0 8.2 0M271.9 193.2a4.1 4.1 0 1 0 -8.2 0a4.1 4.1 0 1 0 8.2 0M273.7 192.4a4.1 4.1 0 1 0 -8.2 0a4.1 4.1 0 1 0 8.2 0M275.4 191.6a4.1 4.1 0 1 0 -8.2 0a4.1 4.1 0 1 0 8.2 0M277.2 190.9a4.1 4.1 0 1 0 -8.2 0a4.1 4.1 0 1 0 8.2 0M278.9 190.2a4.1 4.1 0 1 0 -8.2 0a4.1 4.1 0 1 0 8.2 0M280.6 189.5a4.1 4.1 0 1 0 -8.2 0a4.1 4.1 0 1 0 8.2 0M282.4 188.8a4.1 4.1 0 1 0 -8.2 0a4.1 4.1 0 1 0 8.2 0M284.1 188.1a4.1 4.1 0 1 0 -8.2 0a4.1 4.1 0 1 0 8.2 0M285.9 187.5a4.1 4.1 0 1 0 -8.2 0a4.1 4.1 0 1 0 8.2 0M287.6 188.0a4.1 4.1 0 1 0 -8.2 0a4.1 4.1 0 1 0 8.2 0M289.4 188.4a4.1 4.1 0 1 0 -8.2 0a4.1 4.1 0 1 0 8.2 0M291.1 188.9a4.1 4.1 0 1 0 -8.2 0a4.1 4.1 0 1 0 8.2 0M292.8 190.2a4.1 4.1 0 1 0 -8.2 0a4.1 4.1 0 1 0 8.2 0M294.6 191.8a4.1 4.1 0 1 0 -8.2 0a4.1 4.1 0 1 0 8.2 0M296.3 193.4a4.1 4.1 0 1 0 -8.2 0a4.1 4.1 0 1 0 8.2 0M298.1 192.6a4.1 4.1 0 1 0 -8.2 0a4.1 4.1 0 1 0 8.2 0M299.8 191.3a4.1 4.1 0 1 0 -8.2 0a4.1 4.1 0 1 0 8.2 0M301.5 190.0a4.1 4.1 0 1 0 -8.2 0a4.1 4.1 0 1 0 8.2 0M303.3 189.5a4.1 4.1 0 1 0 -8.2 0a4.1 4.1 0 1 0 8.2 0M305.0 188.9a4.1 4.1 0 1 0 -8.2 0a4.1 4.1 0 1 0 8.2 0M306.8 188.3a4.1 4.1 0 1 0 -8.2 0a4.1 4.1 0 1 0 8.2 0M308.5 188.2a4.1 4.1 0 1 0 -8.2 0a4.1 4.1 0 1 0 8.2 0M310.2 189.4a4.1 4.1 0 1 0 -8.2 0a4.1 4.1 0 1 0 8.2 0M312.0 190.6a4.1 4.1 0 1 0 -8.2 0a4.1 4.1 0 1 0 8.2 0M313.7 192.1a4.1 4.1 0 1 0 -8.2 0a4.1 4.1 0 1 0 8.2 0M315.5 194.5a4.1 4.1 0 1 0 -8.2 0a4.1 4.1 0 1 0 8.2 0M317.2 197.0a4.1 4.1 0 1 0 -8.2 0a4.1 4.1 0 1 0 8.2 0M318.9 198.4a4.1 4.1 0 1 0 -8.2 0a4.1 4.1 0 1 0 8.2 0M320.7 198.1a4.1 4.1 0 1 0 -8.2 0a4.1 4.1 0 1 0 8.2 0M322.4 197.7a4.1 4.1 0 1 0 -8.2 0a4.1 4.1 0 1 0 8.2 0M324.2 197.4a4.1 4.1 0 1 0 -8.2 0a4.1 4.1 0 1 0 8.2 0M325.9 197.6a4.1 4.1 0 1 0 -8.2 0a4.1 4.1 0 1 0 8.2 0M327.6 198.0a4.1 4.1 0 1 0 -8.2 0a4.1 4.1 0 1 0 8.2 0M329.4 198.4a4.1 4.1 0 1 0 -8.2 0a4.1 4.1 0 1 0 8.2 0M331.1 198.8a4.1 4.1 0 1 0 -8.2 0a4.1 4.1 0 1 0 8.2 0M332.9 199.2a4.1 4.1 0 1 0 -8.2 0a4.1 4.1 0 1 0 8.2 0M334.6 199.5a4.1 4.1 0 1 0 -8.2 0a4.1 4.1 0 1 0 8.2 0" stroke="#0072BD" stroke-width="2.0" fill="none"/>
<path d="M523.6 172.0a4.1 4.1 0 1 0 -8.2 0a4.1 4.1 0 1 0 8.2 0M525.1 172.0a4.1 4.1 0 1 0 -8.2 0a4.1 4.1 0 1 0 8.2 0M526.6 172.0a4.1 4.1 0 1 0 -8.2 0a4.1 4.1 0 1 0 8.2 0M528.1 172.0a4.1 4.1 0 1 0 -8.2 0a4.1 4.1 0 1 0 8.2 0M536.5 191.8a4.1 4.1 0 1 0 -8.2 0a4.1 4.1 0 1 0 8.2 0M510.3 231.4a4.1 4.1 0 1 0 -8.2 0a4.1 4.1 0 1 0 8.2 0M512.0 231.4a4.1 4.1 0 1 0 -8.2 0a4.1 4.1 0 1 0 8.2 0M513.8 231.4a4.1 4.1 0 1 0 -8.2 0a4.1 4.1 0 1 0 8.2 0M515.5 231.4a4.1 4.1 0 1 0 -8.2 0a4.1 4.1 0 1 0 8.2 0M517.3 231.4a4.1 4.1 0 1 0 -8.2 0a4.1 4.1 0 1 0 8.2 0M519.0 231.4a4.1 4.1 0 1 0 -8.2 0a4.1 4.1 0 1 0 8.2 0M520.7 231.4a4.1 4.1 0 1 0 -8.2 0a4.1 4.1 0 1 0 8.2 0M522.5 231.4a4.1 4.1 0 1 0 -8.2 0a4.1 4.1 0 1 0 8.2 0M524.2 231.4a4.1 4.1 0 1 0 -8.2 0a4.1 4.1 0 1 0 8.2 0M526.0 231.4a4.1 4.1 0 1 0 -8.2 0a4.1 4.1 0 1 0 8.2 0M527.7 231.4a4.1 4.1 0 1 0 -8.2 0a4.1 4.1 0 1 0 8.2 0M529.4 231.4a4.1 4.1 0 1 0 -8.2 0a4.1 4.1 0 1 0 8.2 0M531.2 231.4a4.1 4.1 0 1 0 -8.2 0a4.1 4.1 0 1 0 8.2 0M532.9 231.4a4.1 4.1 0 1 0 -8.2 0a4.1 4.1 0 1 0 8.2 0M534.7 231.4a4.1 4.1 0 1 0 -8.2 0a4.1 4.1 0 1 0 8.2 0M536.4 231.4a4.1 4.1 0 1 0 -8.2 0a4.1 4.1 0 1 0 8.2 0M538.1 231.4a4.1 4.1 0 1 0 -8.2 0a4.1 4.1 0 1 0 8.2 0M539.9 231.4a4.1 4.1 0 1 0 -8.2 0a4.1 4.1 0 1 0 8.2 0M541.6 231.4a4.1 4.1 0 1 0 -8.2 0a4.1 4.1 0 1 0 8.2 0M543.4 231.4a4.1 4.1 0 1 0 -8.2 0a4.1 4.1 0 1 0 8.2 0M545.1 231.4a4.1 4.1 0 1 0 -8.2 0a4.1 4.1 0 1 0 8.2 0M546.8 231.4a4.1 4.1 0 1 0 -8.2 0a4.1 4.1 0 1 0 8.2 0M548.6 231.4a4.1 4.1 0 1 0 -8.2 0a4.1 4.1 0 1 0 8.2 0M550.3 231.4a4.1 4.1 0 1 0 -8.2 0a4.1 4.1 0 1 0 8.2 0M552.1 231.4a4.1 4.1 0 1 0 -8.2 0a4.1 4.1 0 1 0 8.2 0M553.8 231.4a4.1 4.1 0 1 0 -8.2 0a4.1 4.1 0 1 0 8.2 0M555.5 231.4a4.1 4.1 0 1 0 -8.2 0a4.1 4.1 0 1 0 8.2 0M557.3 231.4a4.1 4.1 0 1 0 -8.2 0a4.1 4.1 0 1 0 8.2 0M559.0 231.4a4.1 4.1 0 1 0 -8.2 0a4.1 4.1 0 1 0 8.2 0M560.7 231.4a4.1 4.1 0 1 0 -8.2 0a4.1 4.1 0 1 0 8.2 0M562.5 231.4a4.1 4.1 0 1 0 -8.2 0a4.1 4.1 0 1 0 8.2 0M564.2 231.4a4.1 4.1 0 1 0 -8.2 0a4.1 4.1 0 1 0 8.2 0M566.0 231.4a4.1 4.1 0 1 0 -8.2 0a4.1 4.1 0 1 0 8.2 0M567.7 231.4a4.1 4.1 0 1 0 -8.2 0a4.1 4.1 0 1 0 8.2 0M569.4 231.4a4.1 4.1 0 1 0 -8.2 0a4.1 4.1 0 1 0 8.2 0M571.2 231.4a4.1 4.1 0 1 0 -8.2 0a4.1 4.1 0 1 0 8.2 0M572.9 231.4a4.1 4.1 0 1 0 -8.2 0a4.1 4.1 0 1 0 8.2 0M574.7 231.4a4.1 4.1 0 1 0 -8.2 0a4.1 4.1 0 1 0 8.2 0M576.4 231.4a4.1 4.1 0 1 0 -8.2 0a4.1 4.1 0 1 0 8.2 0M578.1 231.4a4.1 4.1 0 1 0 -8.2 0a4.1 4.1 0 1 0 8.2 0M579.9 231.4a4.1 4.1 0 1 0 -8.2 0a4.1 4.1 0 1 0 8.2 0M581.6 231.4a4.1 4.1 0 1 0 -8.2 0a4.1 4.1 0 1 0 8.2 0M583.4 231.4a4.1 4.1 0 1 0 -8.2 0a4.1 4.1 0 1 0 8.2 0M585.1 231.4a4.1 4.1 0 1 0 -8.2 0a4.1 4.1 0 1 0 8.2 0M586.8 231.4a4.1 4.1 0 1 0 -8.2 0a4.1 4.1 0 1 0 8.2 0M588.6 231.4a4.1 4.1 0 1 0 -8.2 0a4.1 4.1 0 1 0 8.2 0M590.3 231.4a4.1 4.1 0 1 0 -8.2 0a4.1 4.1 0 1 0 8.2 0M592.1 231.4a4.1 4.1 0 1 0 -8.2 0a4.1 4.1 0 1 0 8.2 0M593.8 231.4a4.1 4.1 0 1 0 -8.2 0a4.1 4.1 0 1 0 8.2 0M595.5 231.4a4.1 4.1 0 1 0 -8.2 0a4.1 4.1 0 1 0 8.2 0M597.3 231.4a4.1 4.1 0 1 0 -8.2 0a4.1 4.1 0 1 0 8.2 0M599.0 231.4a4.1 4.1 0 1 0 -8.2 0a4.1 4.1 0 1 0 8.2 0M600.8 231.4a4.1 4.1 0 1 0 -8.2 0a4.1 4.1 0 1 0 8.2 0M602.5 231.4a4.1 4.1 0 1 0 -8.2 0a4.1 4.1 0 1 0 8.2 0M604.2 231.4a4.1 4.1 0 1 0 -8.2 0a4.1 4.1 0 1 0 8.2 0M606.0 231.4a4.1 4.1 0 1 0 -8.2 0a4.1 4.1 0 1 0 8.2 0M607.7 231.4a4.1 4.1 0 1 0 -8.2 0a4.1 4.1 0 1 0 8.2 0M609.5 231.4a4.1 4.1 0 1 0 -8.2 0a4.1 4.1 0 1 0 8.2 0M611.2 231.4a4.1 4.1 0 1 0 -8.2 0a4.1 4.1 0 1 0 8.2 0M612.9 231.4a4.1 4.1 0 1 0 -8.2 0a4.1 4.1 0 1 0 8.2 0M614.7 231.4a4.1 4.1 0 1 0 -8.2 0a4.1 4.1 0 1 0 8.2 0M616.4 231.4a4.1 4.1 0 1 0 -8.2 0a4.1 4.1 0 1 0 8.2 0M618.2 231.4a4.1 4.1 0 1 0 -8.2 0a4.1 4.1 0 1 0 8.2 0M619.9 231.4a4.1 4.1 0 1 0 -8.2 0a4.1 4.1 0 1 0 8.2 0M621.6 231.4a4.1 4.1 0 1 0 -8.2 0a4.1 4.1 0 1 0 8.2 0M623.4 231.4a4.1 4.1 0 1 0 -8.2 0a4.1 4.1 0 1 0 8.2 0M625.1 231.4a4.1 4.1 0 1 0 -8.2 0a4.1 4.1 0 1 0 8.2 0M626.9 231.4a4.1 4.1 0 1 0 -8.2 0a4.1 4.1 0 1 0 8.2 0M628.6 231.4a4.1 4.1 0 1 0 -8.2 0a4.1 4.1 0 1 0 8.2 0M630.3 231.4a4.1 4.1 0 1 0 -8.2 0a4.1 4.1 0 1 0 8.2 0M632.1 231.4a4.1 4.1 0 1 0 -8.2 0a4.1 4.1 0 1 0 8.2 0M633.8 231.4a4.1 4.1 0 1 0 -8.2 0a4.1 4.1 0 1 0 8.2 0M635.6 231.4a4.1 4.1 0 1 0 -8.2 0a4.1 4.1 0 1 0 8.2 0M637.3 231.4a4.1 4.1 0 1 0 -8.2 0a4.1 4.1 0 1 0 8.2 0M639.0 231.4a4.1 4.1 0 1 0 -8.2 0a4.1 4.1 0 1 0 8.2 0M640.8 231.4a4.1 4.1 0 1 0 -8.2 0a4.1 4.1 0 1 0 8.2 0M642.5 231.4a4.1 4.1 0 1 0 -8.2 0a4.1 4.1 0 1 0 8.2 0M644.2 231.4a4.1 4.1 0 1 0 -8.2 0a4.1 4.1 0 1 0 8.2 0M646.0 231.4a4.1 4.1 0 1 0 -8.2 0a4.1 4.1 0 1 0 8.2 0M647.7 231.4a4.1 4.1 0 1 0 -8.2 0a4.1 4.1 0 1 0 8.2 0M649.5 231.4a4.1 4.1 0 1 0 -8.2 0a4.1 4.1 0 1 0 8.2 0M651.2 231.4a4.1 4.1 0 1 0 -8.2 0a4.1 4.1 0 1 0 8.2 0M652.9 231.4a4.1 4.1 0 1 0 -8.2 0a4.1 4.1 0 1 0 8.2 0M654.7 231.4a4.1 4.1 0 1 0 -8.2 0a4.1 4.1 0 1 0 8.2 0M656.4 231.4a4.1 4.1 0 1 0 -8.2 0a4.1 4.1 0 1 0 8.2 0M658.2 231.4a4.1 4.1 0 1 0 -8.2 0a4.1 4.1 0 1 0 8.2 0M659.9 231.4a4.1 4.1 0 1 0 -8.2 0a4.1 4.1 0 1 0 8.2 0M661.6 231.4a4.1 4.1 0 1 0 -8.2 0a4.1 4.1 0 1 0 8.2 0M663.4 231.4a4.1 4.1 0 1 0 -8.2 0a4.1 4.1 0 1 0 8.2 0M665.1 231.4a4.1 4.1 0 1 0 -8.2 0a4.1 4.1 0 1 0 8.2 0M666.9 231.4a4.1 4.1 0 1 0 -8.2 0a4.1 4.1 0 1 0 8.2 0M668.6 231.4a4.1 4.1 0 1 0 -8.2 0a4.1 4.1 0 1 0 8.2 0M670.3 231.4a4.1 4.1 0 1 0 -8.2 0a4.1 4.1 0 1 0 8.2 0M672.1 231.4a4.1 4.1 0 1 0 -8.2 0a4.1 4.1 0 1 0 8.2 0M673.8 231.4a4.1 4.1 0 1 0 -8.2 0a4.1 4.1 0 1 0 8.2 0M675.6 231.4a4.1 4.1 0 1 0 -8.2 0a4.1 4.1 0 1 0 8.2 0M677.3 231.4a4.1 4.1 0 1 0 -8.2 0a4.1 4.1 0 1 0 8.2 0" stroke="#0072BD" stroke-width="2.0" fill="none"/>
<path d="M166.1 355.1a4.1 4.1 0 1 0 -8.2 0a4.1 4.1 0 1 0 8.2 0M167.8 354.6a4.1 4.1 0 1 0 -8.2 0a4.1 4.1 0 1 0 8.2 0M169.6 354.2a4.1 4.1 0 1 0 -8.2 0a4.1 4.1 0 1 0 8.2 0M171.3 353.7a4.1 4.1 0 1 0 -8.2 0a4.1 4.1 0 1 0 8.2 0M173.1 352.6a4.1 4.1 0 1 0 -8.2 0a4.1 4.1 0 1 0 8.2 0M174.8 351.3a4.1 4.1 0 1 0 -8.2 0a4.1 4.1 0 1 0 8.2 0M176.5 350.0a4.1 4.1 0 1 0 -8.2 0a4.1 4.1 0 1 0 8.2 0M178.3 348.9a4.1 4.1 0 1 0 -8.2 0a4.1 4.1 0 1 0 8.2 0M180.0 347.8a4.1 4.1 0 1 0 -8.2 0a4.1 4.1 0 1 0 8.2 0M181.7 346.7a4.1 4.1 0 1 0 -8.2 0a4.1 4.1 0 1 0 8.2 0M183.5 345.8a4.1 4.1 0 1 0 -8.2 0a4.1 4.1 0 1 0 8.2 0M185.2 345.4a4.1 4.1 0 1 0 -8.2 0a4.1 4.1 0 1 0 8.2 0M187.0 344.9a4.1 4.1 0 1 0 -8.2 0a4.1 4.1 0 1 0 8.2 0M188.7 344.5a4.1 4.1 0 1 0 -8.2 0a4.1 4.1 0 1 0 8.2 0M186.6 350.8a4.1 4.1 0 1 0 -8.2 0a4.1 4.1 0 1 0 8.2 0M190.1 343.7a4.1 4.1 0 1 0 -8.2 0a4.1 4.1 0 1 0 8.2 0M190.8 333.1a4.1 4.1 0 1 0 -8.2 0a4.1 4.1 0 1 0 8.2 0M192.9 326.1a4.1 4.1 0 1 0 -8.2 0a4.1 4.1 0 1 0 8.2 0M194.4 315.5a4.1 4.1 0 1 0 -8.2 0a4.1 4.1 0 1 0 8.2 0M196.5 311.2a4.1 4.1 0 1 0 -8.2 0a4.1 4.1 0 1 0 8.2 0M197.9 309.1a4.1 4.1 0 1 0 -8.2 0a4.1 4.1 0 1 0 8.2 0M200.7 313.3a4.1 4.1 0 1 0 -8.2 0a4.1 4.1 0 1 0 8.2 0M201.4 320.4a4.1 4.1 0 1 0 -8.2 0a4.1 4.1 0 1 0 8.2 0M205.0 309.8a4.1 4.1 0 1 0 -8.2 0a4.1 4.1 0 1 0 8.2 0M207.1 316.2a4.1 4.1 0 1 0 -8.2 0a4.1 4.1 0 1 0 8.2 0M208.5 324.7a4.1 4.1 0 1 0 -8.2 0a4.1 4.1 0 1 0 8.2 0M210.6 314.8a4.1 4.1 0 1 0 -8.2 0a4.1 4.1 0 1 0 8.2 0M212.7 309.1a4.1 4.1 0 1 0 -8.2 0a4.1 4.1 0 1 0 8.2 0M214.9 312.6a4.1 4.1 0 1 0 -8.2 0a4.1 4.1 0 1 0 8.2 0M217.7 307.7a4.1 4.1 0 1 0 -8.2 0a4.1 4.1 0 1 0 8.2 0M219.1 311.2a4.1 4.1 0 1 0 -8.2 0a4.1 4.1 0 1 0 8.2 0M219.1 328.9a4.1 4.1 0 1 0 -8.2 0a4.1 4.1 0 1 0 8.2 0M220.5 348.0a4.1 4.1 0 1 0 -8.2 0a4.1 4.1 0 1 0 8.2 0M222.6 351.5a4.1 4.1 0 1 0 -8.2 0a4.1 4.1 0 1 0 8.2 0M221.9 358.6a4.1 4.1 0 1 0 -8.2 0a4.1 4.1 0 1 0 8.2 0M226.2 353.6a4.1 4.1 0 1 0 -8.2 0a4.1 4.1 0 1 0 8.2 0M230.4 352.2a4.1 4.1 0 1 0 -8.2 0a4.1 4.1 0 1 0 8.2 0M199.1 311.0a4.1 4.1 0 1 0 -8.2 0a4.1 4.1 0 1 0 8.2 0M202.1 316.0a4.1 4.1 0 1 0 -8.2 0a4.1 4.1 0 1 0 8.2 0M206.1 313.0a4.1 4.1 0 1 0 -8.2 0a4.1 4.1 0 1 0 8.2 0M209.1 319.0a4.1 4.1 0 1 0 -8.2 0a4.1 4.1 0 1 0 8.2 0M215.1 309.0a4.1 4.1 0 1 0 -8.2 0a4.1 4.1 0 1 0 8.2 0M222.6 357.9a4.1 4.1 0 1 0 -8.2 0a4.1 4.1 0 1 0 8.2 0M224.3 358.0a4.1 4.1 0 1 0 -8.2 0a4.1 4.1 0 1 0 8.2 0M226.1 358.1a4.1 4.1 0 1 0 -8.2 0a4.1 4.1 0 1 0 8.2 0M227.8 358.2a4.1 4.1 0 1 0 -8.2 0a4.1 4.1 0 1 0 8.2 0M229.6 358.3a4.1 4.1 0 1 0 -8.2 0a4.1 4.1 0 1 0 8.2 0M231.3 358.4a4.1 4.1 0 1 0 -8.2 0a4.1 4.1 0 1 0 8.2 0M233.1 358.4a4.1 4.1 0 1 0 -8.2 0a4.1 4.1 0 1 0 8.2 0M234.8 358.5a4.1 4.1 0 1 0 -8.2 0a4.1 4.1 0 1 0 8.2 0M236.5 358.5a4.1 4.1 0 1 0 -8.2 0a4.1 4.1 0 1 0 8.2 0M238.3 358.6a4.1 4.1 0 1 0 -8.2 0a4.1 4.1 0 1 0 8.2 0M240.0 358.6a4.1 4.1 0 1 0 -8.2 0a4.1 4.1 0 1 0 8.2 0M241.8 358.6a4.1 4.1 0 1 0 -8.2 0a4.1 4.1 0 1 0 8.2 0M243.5 358.6a4.1 4.1 0 1 0 -8.2 0a4.1 4.1 0 1 0 8.2 0M245.2 358.6a4.1 4.1 0 1 0 -8.2 0a4.1 4.1 0 1 0 8.2 0M247.0 358.7a4.1 4.1 0 1 0 -8.2 0a4.1 4.1 0 1 0 8.2 0M248.7 358.7a4.1 4.1 0 1 0 -8.2 0a4.1 4.1 0 1 0 8.2 0M250.5 358.8a4.1 4.1 0 1 0 -8.2 0a4.1 4.1 0 1 0 8.2 0M252.2 358.9a4.1 4.1 0 1 0 -8.2 0a4.1 4.1 0 1 0 8.2 0M254.0 359.0a4.1 4.1 0 1 0 -8.2 0a4.1 4.1 0 1 0 8.2 0M255.7 359.1a4.1 4.1 0 1 0 -8.2 0a4.1 4.1 0 1 0 8.2 0M257.4 359.2a4.1 4.1 0 1 0 -8.2 0a4.1 4.1 0 1 0 8.2 0M259.2 359.2a4.1 4.1 0 1 0 -8.2 0a4.1 4.1 0 1 0 8.2 0M260.9 359.3a4.1 4.1 0 1 0 -8.2 0a4.1 4.1 0 1 0 8.2 0M262.7 359.4a4.1 4.1 0 1 0 -8.2 0a4.1 4.1 0 1 0 8.2 0M264.4 359.5a4.1 4.1 0 1 0 -8.2 0a4.1 4.1 0 1 0 8.2 0M266.2 359.3a4.1 4.1 0 1 0 -8.2 0a4.1 4.1 0 1 0 8.2 0M267.9 359.2a4.1 4.1 0 1 0 -8.2 0a4.1 4.1 0 1 0 8.2 0M269.6 359.1a4.1 4.1 0 1 0 -8.2 0a4.1 4.1 0 1 0 8.2 0M271.4 358.9a4.1 4.1 0 1 0 -8.2 0a4.1 4.1 0 1 0 8.2 0M273.1 358.8a4.1 4.1 0 1 0 -8.2 0a4.1 4.1 0 1 0 8.2 0M274.9 358.7a4.1 4.1 0 1 0 -8.2 0a4.1 4.1 0 1 0 8.2 0M276.6 358.6a4.1 4.1 0 1 0 -8.2 0a4.1 4.1 0 1 0 8.2 0M278.4 358.4a4.1 4.1 0 1 0 -8.2 0a4.1 4.1 0 1 0 8.2 0M280.1 358.3a4.1 4.1 0 1 0 -8.2 0a4.1 4.1 0 1 0 8.2 0M281.8 358.2a4.1 4.1 0 1 0 -8.2 0a4.1 4.1 0 1 0 8.2 0M283.6 358.0a4.1 4.1 0 1 0 -8.2 0a4.1 4.1 0 1 0 8.2 0M285.3 357.9a4.1 4.1 0 1 0 -8.2 0a4.1 4.1 0 1 0 8.2 0M287.1 357.8a4.1 4.1 0 1 0 -8.2 0a4.1 4.1 0 1 0 8.2 0M288.8 357.6a4.1 4.1 0 1 0 -8.2 0a4.1 4.1 0 1 0 8.2 0M290.5 357.5a4.1 4.1 0 1 0 -8.2 0a4.1 4.1 0 1 0 8.2 0M292.3 357.4a4.1 4.1 0 1 0 -8.2 0a4.1 4.1 0 1 0 8.2 0M294.0 357.3a4.1 4.1 0 1 0 -8.2 0a4.1 4.1 0 1 0 8.2 0M295.8 357.4a4.1 4.1 0 1 0 -8.2 0a4.1 4.1 0 1 0 8.2 0M297.5 357.4a4.1 4.1 0 1 0 -8.2 0a4.1 4.1 0 1 0 8.2 0M299.3 357.5a4.1 4.1 0 1 0 -8.2 0a4.1 4.1 0 1 0 8.2 0M301.0 357.5a4.1 4.1 0 1 0 -8.2 0a4.1 4.1 0 1 0 8.2 0M302.7 357.6a4.1 4.1 0 1 0 -8.2 0a4.1 4.1 0 1 0 8.2 0M304.5 357.6a4.1 4.1 0 1 0 -8.2 0a4.1 4.1 0 1 0 8.2 0M306.2 357.6a4.1 4.1 0 1 0 -8.2 0a4.1 4.1 0 1 0 8.2 0M308.0 357.7a4.1 4.1 0 1 0 -8.2 0a4.1 4.1 0 1 0 8.2 0M309.7 357.7a4.1 4.1 0 1 0 -8.2 0a4.1 4.1 0 1 0 8.2 0M311.5 357.8a4.1 4.1 0 1 0 -8.2 0a4.1 4.1 0 1 0 8.2 0M313.2 357.8a4.1 4.1 0 1 0 -8.2 0a4.1 4.1 0 1 0 8.2 0M314.9 357.9a4.1 4.1 0 1 0 -8.2 0a4.1 4.1 0 1 0 8.2 0M316.7 358.0a4.1 4.1 0 1 0 -8.2 0a4.1 4.1 0 1 0 8.2 0M318.4 358.2a4.1 4.1 0 1 0 -8.2 0a4.1 4.1 0 1 0 8.2 0M320.2 358.4a4.1 4.1 0 1 0 -8.2 0a4.1 4.1 0 1 0 8.2 0M321.9 358.7a4.1 4.1 0 1 0 -8.2 0a4.1 4.1 0 1 0 8.2 0M323.6 358.9a4.1 4.1 0 1 0 -8.2 0a4.1 4.1 0 1 0 8.2 0M325.4 359.1a4.1 4.1 0 1 0 -8.2 0a4.1 4.1 0 1 0 8.2 0M327.1 359.3a4.1 4.1 0 1 0 -8.2 0a4.1 4.1 0 1 0 8.2 0M328.9 359.5a4.1 4.1 0 1 0 -8.2 0a4.1 4.1 0 1 0 8.2 0M330.6 358.0a4.1 4.1 0 1 0 -8.2 0a4.1 4.1 0 1 0 8.2 0M332.4 356.5a4.1 4.1 0 1 0 -8.2 0a4.1 4.1 0 1 0 8.2 0M334.1 355.0a4.1 4.1 0 1 0 -8.2 0a4.1 4.1 0 1 0 8.2 0" stroke="#0072BD" stroke-width="2.0" fill="none"/>
<path d="M512.4 359.8a4.1 4.1 0 1 0 -8.2 0a4.1 4.1 0 1 0 8.2 0M515.3 359.8a4.1 4.1 0 1 0 -8.2 0a4.1 4.1 0 1 0 8.2 0M518.1 359.8a4.1 4.1 0 1 0 -8.2 0a4.1 4.1 0 1 0 8.2 0M509.6 351.2a4.1 4.1 0 1 0 -8.2 0a4.1 4.1 0 1 0 8.2 0M513.9 351.2a4.1 4.1 0 1 0 -8.2 0a4.1 4.1 0 1 0 8.2 0M516.7 351.2a4.1 4.1 0 1 0 -8.2 0a4.1 4.1 0 1 0 8.2 0M519.5 351.2a4.1 4.1 0 1 0 -8.2 0a4.1 4.1 0 1 0 8.2 0M523.0 351.2a4.1 4.1 0 1 0 -8.2 0a4.1 4.1 0 1 0 8.2 0M526.6 351.2a4.1 4.1 0 1 0 -8.2 0a4.1 4.1 0 1 0 8.2 0M529.4 351.2a4.1 4.1 0 1 0 -8.2 0a4.1 4.1 0 1 0 8.2 0M531.5 351.2a4.1 4.1 0 1 0 -8.2 0a4.1 4.1 0 1 0 8.2 0M533.7 351.2a4.1 4.1 0 1 0 -8.2 0a4.1 4.1 0 1 0 8.2 0M566.9 351.2a4.1 4.1 0 1 0 -8.2 0a4.1 4.1 0 1 0 8.2 0M569.7 351.2a4.1 4.1 0 1 0 -8.2 0a4.1 4.1 0 1 0 8.2 0M581.0 351.2a4.1 4.1 0 1 0 -8.2 0a4.1 4.1 0 1 0 8.2 0M585.3 351.2a4.1 4.1 0 1 0 -8.2 0a4.1 4.1 0 1 0 8.2 0M588.1 351.2a4.1 4.1 0 1 0 -8.2 0a4.1 4.1 0 1 0 8.2 0M598.0 351.2a4.1 4.1 0 1 0 -8.2 0a4.1 4.1 0 1 0 8.2 0M599.8 351.2a4.1 4.1 0 1 0 -8.2 0a4.1 4.1 0 1 0 8.2 0M604.0 351.2a4.1 4.1 0 1 0 -8.2 0a4.1 4.1 0 1 0 8.2 0M608.2 351.2a4.1 4.1 0 1 0 -8.2 0a4.1 4.1 0 1 0 8.2 0M612.5 351.2a4.1 4.1 0 1 0 -8.2 0a4.1 4.1 0 1 0 8.2 0M676.1 351.2a4.1 4.1 0 1 0 -8.2 0a4.1 4.1 0 1 0 8.2 0M534.4 342.5a4.1 4.1 0 1 0 -8.2 0a4.1 4.1 0 1 0 8.2 0M572.6 342.5a4.1 4.1 0 1 0 -8.2 0a4.1 4.1 0 1 0 8.2 0M609.7 342.5a4.1 4.1 0 1 0 -8.2 0a4.1 4.1 0 1 0 8.2 0M612.5 342.5a4.1 4.1 0 1 0 -8.2 0a4.1 4.1 0 1 0 8.2 0M616.7 342.5a4.1 4.1 0 1 0 -8.2 0a4.1 4.1 0 1 0 8.2 0M524.5 333.9a4.1 4.1 0 1 0 -8.2 0a4.1 4.1 0 1 0 8.2 0M528.7 333.9a4.1 4.1 0 1 0 -8.2 0a4.1 4.1 0 1 0 8.2 0M537.2 325.3a4.1 4.1 0 1 0 -8.2 0a4.1 4.1 0 1 0 8.2 0M547.8 325.3a4.1 4.1 0 1 0 -8.2 0a4.1 4.1 0 1 0 8.2 0M554.9 325.3a4.1 4.1 0 1 0 -8.2 0a4.1 4.1 0 1 0 8.2 0M565.5 325.3a4.1 4.1 0 1 0 -8.2 0a4.1 4.1 0 1 0 8.2 0M536.5 316.7a4.1 4.1 0 1 0 -8.2 0a4.1 4.1 0 1 0 8.2 0M539.3 316.7a4.1 4.1 0 1 0 -8.2 0a4.1 4.1 0 1 0 8.2 0M542.1 316.7a4.1 4.1 0 1 0 -8.2 0a4.1 4.1 0 1 0 8.2 0M545.7 316.7a4.1 4.1 0 1 0 -8.2 0a4.1 4.1 0 1 0 8.2 0M549.2 316.7a4.1 4.1 0 1 0 -8.2 0a4.1 4.1 0 1 0 8.2 0M551.3 316.7a4.1 4.1 0 1 0 -8.2 0a4.1 4.1 0 1 0 8.2 0M558.4 316.7a4.1 4.1 0 1 0 -8.2 0a4.1 4.1 0 1 0 8.2 0M560.5 316.7a4.1 4.1 0 1 0 -8.2 0a4.1 4.1 0 1 0 8.2 0M562.6 316.7a4.1 4.1 0 1 0 -8.2 0a4.1 4.1 0 1 0 8.2 0M547.1 308.0a4.1 4.1 0 1 0 -8.2 0a4.1 4.1 0 1 0 8.2 0M551.3 308.0a4.1 4.1 0 1 0 -8.2 0a4.1 4.1 0 1 0 8.2 0M555.6 308.0a4.1 4.1 0 1 0 -8.2 0a4.1 4.1 0 1 0 8.2 0M558.4 308.0a4.1 4.1 0 1 0 -8.2 0a4.1 4.1 0 1 0 8.2 0M562.6 308.0a4.1 4.1 0 1 0 -8.2 0a4.1 4.1 0 1 0 8.2 0M545.0 299.4a4.1 4.1 0 1 0 -8.2 0a4.1 4.1 0 1 0 8.2 0M564.1 299.4a4.1 4.1 0 1 0 -8.2 0a4.1 4.1 0 1 0 8.2 0M574.0 359.8a4.1 4.1 0 1 0 -8.2 0a4.1 4.1 0 1 0 8.2 0M576.5 359.8a4.1 4.1 0 1 0 -8.2 0a4.1 4.1 0 1 0 8.2 0M579.0 359.8a4.1 4.1 0 1 0 -8.2 0a4.1 4.1 0 1 0 8.2 0M581.5 359.8a4.1 4.1 0 1 0 -8.2 0a4.1 4.1 0 1 0 8.2 0M584.0 359.8a4.1 4.1 0 1 0 -8.2 0a4.1 4.1 0 1 0 8.2 0M586.5 359.8a4.1 4.1 0 1 0 -8.2 0a4.1 4.1 0 1 0 8.2 0M589.0 359.8a4.1 4.1 0 1 0 -8.2 0a4.1 4.1 0 1 0 8.2 0M591.5 359.8a4.1 4.1 0 1 0 -8.2 0a4.1 4.1 0 1 0 8.2 0M594.0 359.8a4.1 4.1 0 1 0 -8.2 0a4.1 4.1 0 1 0 8.2 0M596.5 359.8a4.1 4.1 0 1 0 -8.2 0a4.1 4.1 0 1 0 8.2 0M599.0 359.8a4.1 4.1 0 1 0 -8.2 0a4.1 4.1 0 1 0 8.2 0M601.5 359.8a4.1 4.1 0 1 0 -8.2 0a4.1 4.1 0 1 0 8.2 0M604.0 359.8a4.1 4.1 0 1 0 -8.2 0a4.1 4.1 0 1 0 8.2 0M615.3 351.2a4.1 4.1 0 1 0 -8.2 0a4.1 4.1 0 1 0 8.2 0M617.0 351.2a4.1 4.1 0 1 0 -8.2 0a4.1 4.1 0 1 0 8.2 0M618.8 351.2a4.1 4.1 0 1 0 -8.2 0a4.1 4.1 0 1 0 8.2 0M620.5 351.2a4.1 4.1 0 1 0 -8.2 0a4.1 4.1 0 1 0 8.2 0M622.3 351.2a4.1 4.1 0 1 0 -8.2 0a4.1 4.1 0 1 0 8.2 0M624.0 351.2a4.1 4.1 0 1 0 -8.2 0a4.1 4.1 0 1 0 8.2 0M625.8 351.2a4.1 4.1 0 1 0 -8.2 0a4.1 4.1 0 1 0 8.2 0M627.5 351.2a4.1 4.1 0 1 0 -8.2 0a4.1 4.1 0 1 0 8.2 0M629.2 351.2a4.1 4.1 0 1 0 -8.2 0a4.1 4.1 0 1 0 8.2 0M631.0 351.2a4.1 4.1 0 1 0 -8.2 0a4.1 4.1 0 1 0 8.2 0M632.7 351.2a4.1 4.1 0 1 0 -8.2 0a4.1 4.1 0 1 0 8.2 0M634.5 351.2a4.1 4.1 0 1 0 -8.2 0a4.1 4.1 0 1 0 8.2 0M636.2 351.2a4.1 4.1 0 1 0 -8.2 0a4.1 4.1 0 1 0 8.2 0M638.0 351.2a4.1 4.1 0 1 0 -8.2 0a4.1 4.1 0 1 0 8.2 0M639.7 351.2a4.1 4.1 0 1 0 -8.2 0a4.1 4.1 0 1 0 8.2 0M641.4 351.2a4.1 4.1 0 1 0 -8.2 0a4.1 4.1 0 1 0 8.2 0M643.2 351.2a4.1 4.1 0 1 0 -8.2 0a4.1 4.1 0 1 0 8.2 0M644.9 351.2a4.1 4.1 0 1 0 -8.2 0a4.1 4.1 0 1 0 8.2 0M646.7 351.2a4.1 4.1 0 1 0 -8.2 0a4.1 4.1 0 1 0 8.2 0M648.4 351.2a4.1 4.1 0 1 0 -8.2 0a4.1 4.1 0 1 0 8.2 0M650.1 351.2a4.1 4.1 0 1 0 -8.2 0a4.1 4.1 0 1 0 8.2 0M651.9 351.2a4.1 4.1 0 1 0 -8.2 0a4.1 4.1 0 1 0 8.2 0M653.6 351.2a4.1 4.1 0 1 0 -8.2 0a4.1 4.1 0 1 0 8.2 0M655.4 351.2a4.1 4.1 0 1 0 -8.2 0a4.1 4.1 0 1 0 8.2 0M657.1 351.2a4.1 4.1 0 1 0 -8.2 0a4.1 4.1 0 1 0 8.2 0M658.9 351.2a4.1 4.1 0 1 0 -8.2 0a4.1 4.1 0 1 0 8.2 0M660.6 351.2a4.1 4.1 0 1 0 -8.2 0a4.1 4.1 0 1 0 8.2 0M660.6 359.8a4.1 4.1 0 1 0 -8.2 0a4.1 4.1 0 1 0 8.2 0M662.4 359.8a4.1 4.1 0 1 0 -8.2 0a4.1 4.1 0 1 0 8.2 0M664.1 359.8a4.1 4.1 0 1 0 -8.2 0a4.1 4.1 0 1 0 8.2 0M665.9 359.8a4.1 4.1 0 1 0 -8.2 0a4.1 4.1 0 1 0 8.2 0M667.6 359.8a4.1 4.1 0 1 0 -8.2 0a4.1 4.1 0 1 0 8.2 0M669.4 359.8a4.1 4.1 0 1 0 -8.2 0a4.1 4.1 0 1 0 8.2 0M671.2 359.8a4.1 4.1 0 1 0 -8.2 0a4.1 4.1 0 1 0 8.2 0M672.9 359.8a4.1 4.1 0 1 0 -8.2 0a4.1 4.1 0 1 0 8.2 0M674.7 359.8a4.1 4.1 0 1 0 -8.2 0a4.1 4.1 0 1 0 8.2 0" stroke="#0072BD" stroke-width="2.0" fill="none"/>
<path d="M166.1 487.3a4.1 4.1 0 1 0 -8.2 0a4.1 4.1 0 1 0 8.2 0M167.8 487.3a4.1 4.1 0 1 0 -8.2 0a4.1 4.1 0 1 0 8.2 0M169.6 487.3a4.1 4.1 0 1 0 -8.2 0a4.1 4.1 0 1 0 8.2 0M171.3 487.3a4.1 4.1 0 1 0 -8.2 0a4.1 4.1 0 1 0 8.2 0M173.1 487.3a4.1 4.1 0 1 0 -8.2 0a4.1 4.1 0 1 0 8.2 0M174.8 487.3a4.1 4.1 0 1 0 -8.2 0a4.1 4.1 0 1 0 8.2 0M176.6 487.3a4.1 4.1 0 1 0 -8.2 0a4.1 4.1 0 1 0 8.2 0M178.3 487.3a4.1 4.1 0 1 0 -8.2 0a4.1 4.1 0 1 0 8.2 0M180.0 487.3a4.1 4.1 0 1 0 -8.2 0a4.1 4.1 0 1 0 8.2 0M181.8 486.8a4.1 4.1 0 1 0 -8.2 0a4.1 4.1 0 1 0 8.2 0M183.5 483.3a4.1 4.1 0 1 0 -8.2 0a4.1 4.1 0 1 0 8.2 0M185.3 484.3a4.1 4.1 0 1 0 -8.2 0a4.1 4.1 0 1 0 8.2 0M187.0 485.4a4.1 4.1 0 1 0 -8.2 0a4.1 4.1 0 1 0 8.2 0M188.8 486.5a4.1 4.1 0 1 0 -8.2 0a4.1 4.1 0 1 0 8.2 0M190.5 487.3a4.1 4.1 0 1 0 -8.2 0a4.1 4.1 0 1 0 8.2 0M192.2 487.3a4.1 4.1 0 1 0 -8.2 0a4.1 4.1 0 1 0 8.2 0M194.0 487.3a4.1 4.1 0 1 0 -8.2 0a4.1 4.1 0 1 0 8.2 0M195.7 487.3a4.1 4.1 0 1 0 -8.2 0a4.1 4.1 0 1 0 8.2 0M197.5 487.3a4.1 4.1 0 1 0 -8.2 0a4.1 4.1 0 1 0 8.2 0M199.2 487.3a4.1 4.1 0 1 0 -8.2 0a4.1 4.1 0 1 0 8.2 0M201.0 487.3a4.1 4.1 0 1 0 -8.2 0a4.1 4.1 0 1 0 8.2 0M202.7 487.3a4.1 4.1 0 1 0 -8.2 0a4.1 4.1 0 1 0 8.2 0M204.5 487.3a4.1 4.1 0 1 0 -8.2 0a4.1 4.1 0 1 0 8.2 0M206.2 487.3a4.1 4.1 0 1 0 -8.2 0a4.1 4.1 0 1 0 8.2 0M207.9 487.3a4.1 4.1 0 1 0 -8.2 0a4.1 4.1 0 1 0 8.2 0M209.7 487.3a4.1 4.1 0 1 0 -8.2 0a4.1 4.1 0 1 0 8.2 0M211.4 487.3a4.1 4.1 0 1 0 -8.2 0a4.1 4.1 0 1 0 8.2 0M213.2 487.3a4.1 4.1 0 1 0 -8.2 0a4.1 4.1 0 1 0 8.2 0M214.9 487.3a4.1 4.1 0 1 0 -8.2 0a4.1 4.1 0 1 0 8.2 0M216.7 487.3a4.1 4.1 0 1 0 -8.2 0a4.1 4.1 0 1 0 8.2 0M218.4 487.3a4.1 4.1 0 1 0 -8.2 0a4.1 4.1 0 1 0 8.2 0M185.9 468.2a4.1 4.1 0 1 0 -8.2 0a4.1 4.1 0 1 0 8.2 0M183.8 472.5a4.1 4.1 0 1 0 -8.2 0a4.1 4.1 0 1 0 8.2 0M188.7 479.5a4.1 4.1 0 1 0 -8.2 0a4.1 4.1 0 1 0 8.2 0M219.1 478.1a4.1 4.1 0 1 0 -8.2 0a4.1 4.1 0 1 0 8.2 0M226.2 436.4a4.1 4.1 0 1 0 -8.2 0a4.1 4.1 0 1 0 8.2 0M221.2 452.7a4.1 4.1 0 1 0 -8.2 0a4.1 4.1 0 1 0 8.2 0M225.5 452.0a4.1 4.1 0 1 0 -8.2 0a4.1 4.1 0 1 0 8.2 0M229.0 452.0a4.1 4.1 0 1 0 -8.2 0a4.1 4.1 0 1 0 8.2 0M219.8 459.7a4.1 4.1 0 1 0 -8.2 0a4.1 4.1 0 1 0 8.2 0M229.0 463.3a4.1 4.1 0 1 0 -8.2 0a4.1 4.1 0 1 0 8.2 0M230.4 466.8a4.1 4.1 0 1 0 -8.2 0a4.1 4.1 0 1 0 8.2 0M232.6 482.4a4.1 4.1 0 1 0 -8.2 0a4.1 4.1 0 1 0 8.2 0M234.0 478.8a4.1 4.1 0 1 0 -8.2 0a4.1 4.1 0 1 0 8.2 0M235.4 474.6a4.1 4.1 0 1 0 -8.2 0a4.1 4.1 0 1 0 8.2 0M236.8 470.3a4.1 4.1 0 1 0 -8.2 0a4.1 4.1 0 1 0 8.2 0M241.0 466.1a4.1 4.1 0 1 0 -8.2 0a4.1 4.1 0 1 0 8.2 0M243.9 463.3a4.1 4.1 0 1 0 -8.2 0a4.1 4.1 0 1 0 8.2 0M246.7 467.5a4.1 4.1 0 1 0 -8.2 0a4.1 4.1 0 1 0 8.2 0M249.5 463.3a4.1 4.1 0 1 0 -8.2 0a4.1 4.1 0 1 0 8.2 0M252.4 454.8a4.1 4.1 0 1 0 -8.2 0a4.1 4.1 0 1 0 8.2 0M255.2 449.1a4.1 4.1 0 1 0 -8.2 0a4.1 4.1 0 1 0 8.2 0M238.6 468.5a4.1 4.1 0 1 0 -8.2 0a4.1 4.1 0 1 0 8.2 0M242.6 465.5a4.1 4.1 0 1 0 -8.2 0a4.1 4.1 0 1 0 8.2 0M245.1 467.0a4.1 4.1 0 1 0 -8.2 0a4.1 4.1 0 1 0 8.2 0M247.9 465.5a4.1 4.1 0 1 0 -8.2 0a4.1 4.1 0 1 0 8.2 0M250.9 459.0a4.1 4.1 0 1 0 -8.2 0a4.1 4.1 0 1 0 8.2 0M237.6 472.5a4.1 4.1 0 1 0 -8.2 0a4.1 4.1 0 1 0 8.2 0M240.1 470.0a4.1 4.1 0 1 0 -8.2 0a4.1 4.1 0 1 0 8.2 0M255.2 449.1a4.1 4.1 0 1 0 -8.2 0a4.1 4.1 0 1 0 8.2 0M256.9 451.8a4.1 4.1 0 1 0 -8.2 0a4.1 4.1 0 1 0 8.2 0M258.7 454.4a4.1 4.1 0 1 0 -8.2 0a4.1 4.1 0 1 0 8.2 0M260.4 457.1a4.1 4.1 0 1 0 -8.2 0a4.1 4.1 0 1 0 8.2 0M262.1 459.5a4.1 4.1 0 1 0 -8.2 0a4.1 4.1 0 1 0 8.2 0M263.9 461.8a4.1 4.1 0 1 0 -8.2 0a4.1 4.1 0 1 0 8.2 0M265.6 464.2a4.1 4.1 0 1 0 -8.2 0a4.1 4.1 0 1 0 8.2 0M267.3 467.7a4.1 4.1 0 1 0 -8.2 0a4.1 4.1 0 1 0 8.2 0M269.0 471.2a4.1 4.1 0 1 0 -8.2 0a4.1 4.1 0 1 0 8.2 0M270.8 472.0a4.1 4.1 0 1 0 -8.2 0a4.1 4.1 0 1 0 8.2 0M272.5 470.7a4.1 4.1 0 1 0 -8.2 0a4.1 4.1 0 1 0 8.2 0M274.2 469.4a4.1 4.1 0 1 0 -8.2 0a4.1 4.1 0 1 0 8.2 0M276.0 468.5a4.1 4.1 0 1 0 -8.2 0a4.1 4.1 0 1 0 8.2 0M277.7 469.5a4.1 4.1 0 1 0 -8.2 0a4.1 4.1 0 1 0 8.2 0M279.4 470.5a4.1 4.1 0 1 0 -8.2 0a4.1 4.1 0 1 0 8.2 0M281.2 471.5a4.1 4.1 0 1 0 -8.2 0a4.1 4.1 0 1 0 8.2 0M282.9 472.6a4.1 4.1 0 1 0 -8.2 0a4.1 4.1 0 1 0 8.2 0M284.6 473.0a4.1 4.1 0 1 0 -8.2 0a4.1 4.1 0 1 0 8.2 0M286.3 473.4a4.1 4.1 0 1 0 -8.2 0a4.1 4.1 0 1 0 8.2 0M288.1 473.7a4.1 4.1 0 1 0 -8.2 0a4.1 4.1 0 1 0 8.2 0M289.8 474.1a4.1 4.1 0 1 0 -8.2 0a4.1 4.1 0 1 0 8.2 0M291.5 473.6a4.1 4.1 0 1 0 -8.2 0a4.1 4.1 0 1 0 8.2 0M293.3 472.5a4.1 4.1 0 1 0 -8.2 0a4.1 4.1 0 1 0 8.2 0M295.0 471.5a4.1 4.1 0 1 0 -8.2 0a4.1 4.1 0 1 0 8.2 0M296.7 470.4a4.1 4.1 0 1 0 -8.2 0a4.1 4.1 0 1 0 8.2 0M298.5 469.9a4.1 4.1 0 1 0 -8.2 0a4.1 4.1 0 1 0 8.2 0M300.2 470.4a4.1 4.1 0 1 0 -8.2 0a4.1 4.1 0 1 0 8.2 0M301.9 470.9a4.1 4.1 0 1 0 -8.2 0a4.1 4.1 0 1 0 8.2 0M303.7 471.4a4.1 4.1 0 1 0 -8.2 0a4.1 4.1 0 1 0 8.2 0M305.4 471.9a4.1 4.1 0 1 0 -8.2 0a4.1 4.1 0 1 0 8.2 0M307.1 472.4a4.1 4.1 0 1 0 -8.2 0a4.1 4.1 0 1 0 8.2 0M308.8 473.3a4.1 4.1 0 1 0 -8.2 0a4.1 4.1 0 1 0 8.2 0M310.6 475.1a4.1 4.1 0 1 0 -8.2 0a4.1 4.1 0 1 0 8.2 0M312.3 476.8a4.1 4.1 0 1 0 -8.2 0a4.1 4.1 0 1 0 8.2 0M314.0 478.5a4.1 4.1 0 1 0 -8.2 0a4.1 4.1 0 1 0 8.2 0M315.8 480.1a4.1 4.1 0 1 0 -8.2 0a4.1 4.1 0 1 0 8.2 0M317.5 481.7a4.1 4.1 0 1 0 -8.2 0a4.1 4.1 0 1 0 8.2 0M319.2 483.2a4.1 4.1 0 1 0 -8.2 0a4.1 4.1 0 1 0 8.2 0M321.0 484.8a4.1 4.1 0 1 0 -8.2 0a4.1 4.1 0 1 0 8.2 0M322.7 484.6a4.1 4.1 0 1 0 -8.2 0a4.1 4.1 0 1 0 8.2 0M324.4 483.5a4.1 4.1 0 1 0 -8.2 0a4.1 4.1 0 1 0 8.2 0M326.1 482.4a4.1 4.1 0 1 0 -8.2 0a4.1 4.1 0 1 0 8.2 0M327.9 481.7a4.1 4.1 0 1 0 -8.2 0a4.1 4.1 0 1 0 8.2 0M329.6 482.0a4.1 4.1 0 1 0 -8.2 0a4.1 4.1 0 1 0 8.2 0M331.3 482.3a4.1 4.1 0 1 0 -8.2 0a4.1 4.1 0 1 0 8.2 0M333.1 482.7a4.1 4.1 0 1 0 -8.2 0a4.1 4.1 0 1 0 8.2 0M334.8 483.0a4.1 4.1 0 1 0 -8.2 0a4.1 4.1 0 1 0 8.2 0" stroke="#0072BD" stroke-width="2.0" fill="none"/>
<path d="M510.3 480.9a4.1 4.1 0 1 0 -8.2 0a4.1 4.1 0 1 0 8.2 0M512.6 483.5a4.1 4.1 0 1 0 -8.2 0a4.1 4.1 0 1 0 8.2 0M515.3 486.6a4.1 4.1 0 1 0 -8.2 0a4.1 4.1 0 1 0 8.2 0M517.0 486.6a4.1 4.1 0 1 0 -8.2 0a4.1 4.1 0 1 0 8.2 0M518.8 486.6a4.1 4.1 0 1 0 -8.2 0a4.1 4.1 0 1 0 8.2 0M520.5 486.6a4.1 4.1 0 1 0 -8.2 0a4.1 4.1 0 1 0 8.2 0M522.2 486.6a4.1 4.1 0 1 0 -8.2 0a4.1 4.1 0 1 0 8.2 0M523.9 486.6a4.1 4.1 0 1 0 -8.2 0a4.1 4.1 0 1 0 8.2 0M525.7 486.6a4.1 4.1 0 1 0 -8.2 0a4.1 4.1 0 1 0 8.2 0M527.4 486.6a4.1 4.1 0 1 0 -8.2 0a4.1 4.1 0 1 0 8.2 0M529.1 486.6a4.1 4.1 0 1 0 -8.2 0a4.1 4.1 0 1 0 8.2 0M530.8 486.6a4.1 4.1 0 1 0 -8.2 0a4.1 4.1 0 1 0 8.2 0M532.6 486.6a4.1 4.1 0 1 0 -8.2 0a4.1 4.1 0 1 0 8.2 0M534.3 486.6a4.1 4.1 0 1 0 -8.2 0a4.1 4.1 0 1 0 8.2 0M536.0 486.6a4.1 4.1 0 1 0 -8.2 0a4.1 4.1 0 1 0 8.2 0M537.7 486.6a4.1 4.1 0 1 0 -8.2 0a4.1 4.1 0 1 0 8.2 0M539.5 486.6a4.1 4.1 0 1 0 -8.2 0a4.1 4.1 0 1 0 8.2 0M541.2 486.6a4.1 4.1 0 1 0 -8.2 0a4.1 4.1 0 1 0 8.2 0M542.9 486.6a4.1 4.1 0 1 0 -8.2 0a4.1 4.1 0 1 0 8.2 0M544.6 486.6a4.1 4.1 0 1 0 -8.2 0a4.1 4.1 0 1 0 8.2 0M546.4 486.6a4.1 4.1 0 1 0 -8.2 0a4.1 4.1 0 1 0 8.2 0M548.1 486.6a4.1 4.1 0 1 0 -8.2 0a4.1 4.1 0 1 0 8.2 0M549.8 486.6a4.1 4.1 0 1 0 -8.2 0a4.1 4.1 0 1 0 8.2 0M551.5 486.6a4.1 4.1 0 1 0 -8.2 0a4.1 4.1 0 1 0 8.2 0M553.3 486.6a4.1 4.1 0 1 0 -8.2 0a4.1 4.1 0 1 0 8.2 0M555.0 486.6a4.1 4.1 0 1 0 -8.2 0a4.1 4.1 0 1 0 8.2 0M556.7 486.6a4.1 4.1 0 1 0 -8.2 0a4.1 4.1 0 1 0 8.2 0M558.4 486.6a4.1 4.1 0 1 0 -8.2 0a4.1 4.1 0 1 0 8.2 0M560.2 486.6a4.1 4.1 0 1 0 -8.2 0a4.1 4.1 0 1 0 8.2 0M561.9 486.6a4.1 4.1 0 1 0 -8.2 0a4.1 4.1 0 1 0 8.2 0M563.6 486.6a4.1 4.1 0 1 0 -8.2 0a4.1 4.1 0 1 0 8.2 0M565.3 486.6a4.1 4.1 0 1 0 -8.2 0a4.1 4.1 0 1 0 8.2 0M567.1 486.6a4.1 4.1 0 1 0 -8.2 0a4.1 4.1 0 1 0 8.2 0M568.8 486.6a4.1 4.1 0 1 0 -8.2 0a4.1 4.1 0 1 0 8.2 0M570.5 486.6a4.1 4.1 0 1 0 -8.2 0a4.1 4.1 0 1 0 8.2 0M572.2 486.6a4.1 4.1 0 1 0 -8.2 0a4.1 4.1 0 1 0 8.2 0M574.0 486.6a4.1 4.1 0 1 0 -8.2 0a4.1 4.1 0 1 0 8.2 0M575.7 486.6a4.1 4.1 0 1 0 -8.2 0a4.1 4.1 0 1 0 8.2 0M577.4 486.6a4.1 4.1 0 1 0 -8.2 0a4.1 4.1 0 1 0 8.2 0M579.1 486.6a4.1 4.1 0 1 0 -8.2 0a4.1 4.1 0 1 0 8.2 0M580.9 486.6a4.1 4.1 0 1 0 -8.2 0a4.1 4.1 0 1 0 8.2 0M582.6 486.6a4.1 4.1 0 1 0 -8.2 0a4.1 4.1 0 1 0 8.2 0M584.3 486.6a4.1 4.1 0 1 0 -8.2 0a4.1 4.1 0 1 0 8.2 0M586.0 486.6a4.1 4.1 0 1 0 -8.2 0a4.1 4.1 0 1 0 8.2 0M587.8 486.6a4.1 4.1 0 1 0 -8.2 0a4.1 4.1 0 1 0 8.2 0M589.5 486.6a4.1 4.1 0 1 0 -8.2 0a4.1 4.1 0 1 0 8.2 0M590.9 480.2a4.1 4.1 0 1 0 -8.2 0a4.1 4.1 0 1 0 8.2 0M592.4 474.6a4.1 4.1 0 1 0 -8.2 0a4.1 4.1 0 1 0 8.2 0M593.8 468.9a4.1 4.1 0 1 0 -8.2 0a4.1 4.1 0 1 0 8.2 0M595.2 463.3a4.1 4.1 0 1 0 -8.2 0a4.1 4.1 0 1 0 8.2 0M596.6 457.6a4.1 4.1 0 1 0 -8.2 0a4.1 4.1 0 1 0 8.2 0M598.7 452.0a4.1 4.1 0 1 0 -8.2 0a4.1 4.1 0 1 0 8.2 0M601.7 460.1a4.1 4.1 0 1 0 -8.2 0a4.1 4.1 0 1 0 8.2 0M602.4 468.3a4.1 4.1 0 1 0 -8.2 0a4.1 4.1 0 1 0 8.2 0M603.1 477.1a4.1 4.1 0 1 0 -8.2 0a4.1 4.1 0 1 0 8.2 0M605.4 480.1a4.1 4.1 0 1 0 -8.2 0a4.1 4.1 0 1 0 8.2 0M609.8 483.0a4.1 4.1 0 1 0 -8.2 0a4.1 4.1 0 1 0 8.2 0M609.8 483.0a4.1 4.1 0 1 0 -8.2 0a4.1 4.1 0 1 0 8.2 0M611.5 484.7a4.1 4.1 0 1 0 -8.2 0a4.1 4.1 0 1 0 8.2 0M613.2 486.5a4.1 4.1 0 1 0 -8.2 0a4.1 4.1 0 1 0 8.2 0M614.9 487.5a4.1 4.1 0 1 0 -8.2 0a4.1 4.1 0 1 0 8.2 0M616.6 487.5a4.1 4.1 0 1 0 -8.2 0a4.1 4.1 0 1 0 8.2 0M618.3 487.5a4.1 4.1 0 1 0 -8.2 0a4.1 4.1 0 1 0 8.2 0M620.1 487.5a4.1 4.1 0 1 0 -8.2 0a4.1 4.1 0 1 0 8.2 0M621.8 487.5a4.1 4.1 0 1 0 -8.2 0a4.1 4.1 0 1 0 8.2 0M623.5 487.5a4.1 4.1 0 1 0 -8.2 0a4.1 4.1 0 1 0 8.2 0M625.2 487.5a4.1 4.1 0 1 0 -8.2 0a4.1 4.1 0 1 0 8.2 0M626.9 487.5a4.1 4.1 0 1 0 -8.2 0a4.1 4.1 0 1 0 8.2 0M628.6 487.5a4.1 4.1 0 1 0 -8.2 0a4.1 4.1 0 1 0 8.2 0M630.3 487.5a4.1 4.1 0 1 0 -8.2 0a4.1 4.1 0 1 0 8.2 0M632.0 477.9a4.1 4.1 0 1 0 -8.2 0a4.1 4.1 0 1 0 8.2 0M633.4 469.0a4.1 4.1 0 1 0 -8.2 0a4.1 4.1 0 1 0 8.2 0M634.9 459.4a4.1 4.1 0 1 0 -8.2 0a4.1 4.1 0 1 0 8.2 0M636.4 449.8a4.1 4.1 0 1 0 -8.2 0a4.1 4.1 0 1 0 8.2 0M638.6 440.2a4.1 4.1 0 1 0 -8.2 0a4.1 4.1 0 1 0 8.2 0M640.1 429.1a4.1 4.1 0 1 0 -8.2 0a4.1 4.1 0 1 0 8.2 0M642.3 441.7a4.1 4.1 0 1 0 -8.2 0a4.1 4.1 0 1 0 8.2 0M643.8 454.2a4.1 4.1 0 1 0 -8.2 0a4.1 4.1 0 1 0 8.2 0M644.5 465.3a4.1 4.1 0 1 0 -8.2 0a4.1 4.1 0 1 0 8.2 0M644.5 465.3a4.1 4.1 0 1 0 -8.2 0a4.1 4.1 0 1 0 8.2 0M646.2 467.8a4.1 4.1 0 1 0 -8.2 0a4.1 4.1 0 1 0 8.2 0M647.9 470.3a4.1 4.1 0 1 0 -8.2 0a4.1 4.1 0 1 0 8.2 0M649.6 472.9a4.1 4.1 0 1 0 -8.2 0a4.1 4.1 0 1 0 8.2 0M651.3 475.9a4.1 4.1 0 1 0 -8.2 0a4.1 4.1 0 1 0 8.2 0M653.0 479.4a4.1 4.1 0 1 0 -8.2 0a4.1 4.1 0 1 0 8.2 0M654.7 484.6a4.1 4.1 0 1 0 -8.2 0a4.1 4.1 0 1 0 8.2 0M656.4 487.5a4.1 4.1 0 1 0 -8.2 0a4.1 4.1 0 1 0 8.2 0M658.1 487.5a4.1 4.1 0 1 0 -8.2 0a4.1 4.1 0 1 0 8.2 0M659.7 487.5a4.1 4.1 0 1 0 -8.2 0a4.1 4.1 0 1 0 8.2 0M661.4 487.5a4.1 4.1 0 1 0 -8.2 0a4.1 4.1 0 1 0 8.2 0M663.1 487.5a4.1 4.1 0 1 0 -8.2 0a4.1 4.1 0 1 0 8.2 0M664.8 487.5a4.1 4.1 0 1 0 -8.2 0a4.1 4.1 0 1 0 8.2 0M666.5 487.5a4.1 4.1 0 1 0 -8.2 0a4.1 4.1 0 1 0 8.2 0M668.2 487.5a4.1 4.1 0 1 0 -8.2 0a4.1 4.1 0 1 0 8.2 0M669.9 487.5a4.1 4.1 0 1 0 -8.2 0a4.1 4.1 0 1 0 8.2 0M671.6 487.5a4.1 4.1 0 1 0 -8.2 0a4.1 4.1 0 1 0 8.2 0M673.4 475.6a4.1 4.1 0 1 0 -8.2 0a4.1 4.1 0 1 0 8.2 0M674.8 466.0a4.1 4.1 0 1 0 -8.2 0a4.1 4.1 0 1 0 8.2 0M677.1 457.2a4.1 4.1 0 1 0 -8.2 0a4.1 4.1 0 1 0 8.2 0" stroke="#0072BD" stroke-width="2.0" fill="none"/>
<g class="t"><text x="139.03" y="110.83" font-size="20.51" fill="#262626" text-anchor="end" textLength="32.86" lengthAdjust="spacingAndGlyphs">800</text><text x="139.03" y="82.91" font-size="20.51" fill="#262626" text-anchor="end" textLength="32.86" lengthAdjust="spacingAndGlyphs">900</text><text x="139.03" y="54.98" font-size="20.51" fill="#262626" text-anchor="end" textLength="43.82" lengthAdjust="spacingAndGlyphs">1000</text><text x="482.03" y="91.93" font-size="20.51" fill="#262626" text-anchor="end" textLength="32.86" lengthAdjust="spacingAndGlyphs">260</text><text x="482.03" y="72.03" font-size="20.51" fill="#262626" text-anchor="end" textLength="32.86" lengthAdjust="spacingAndGlyphs">265</text><text x="482.03" y="52.13" font-size="20.51" fill="#262626" text-anchor="end" textLength="32.86" lengthAdjust="spacingAndGlyphs">270</text><text x="139.03" y="237.83" font-size="20.51" fill="#262626" text-anchor="end" textLength="32.86" lengthAdjust="spacingAndGlyphs">255</text><text x="139.03" y="212.93" font-size="20.51" fill="#262626" text-anchor="end" textLength="32.86" lengthAdjust="spacingAndGlyphs">260</text><text x="139.03" y="188.03" font-size="20.51" fill="#262626" text-anchor="end" textLength="32.86" lengthAdjust="spacingAndGlyphs">265</text><text x="482.03" y="237.83" font-size="20.51" fill="#262626" text-anchor="end" textLength="10.95" lengthAdjust="spacingAndGlyphs">0</text><text x="482.03" y="218.38" font-size="20.51" fill="#262626" text-anchor="end" textLength="27.38" lengthAdjust="spacingAndGlyphs">0.1</text><text x="482.03" y="198.93" font-size="20.51" fill="#262626" text-anchor="end" textLength="27.38" lengthAdjust="spacingAndGlyphs">0.2</text><text x="139.03" y="365.98" font-size="20.51" fill="#262626" text-anchor="end" textLength="10.95" lengthAdjust="spacingAndGlyphs">0</text><text x="139.03" y="336.13" font-size="20.51" fill="#262626" text-anchor="end" textLength="43.82" lengthAdjust="spacingAndGlyphs">1000</text><text x="139.03" y="306.28" font-size="20.51" fill="#262626" text-anchor="end" textLength="43.82" lengthAdjust="spacingAndGlyphs">2000</text><text x="482.03" y="365.93" font-size="20.51" fill="#262626" text-anchor="end" textLength="10.95" lengthAdjust="spacingAndGlyphs">1</text><text x="482.03" y="322.93" font-size="20.51" fill="#262626" text-anchor="end" textLength="27.38" lengthAdjust="spacingAndGlyphs">1.5</text><text x="139.03" y="493.93" font-size="20.51" fill="#262626" text-anchor="end" textLength="10.95" lengthAdjust="spacingAndGlyphs">0</text><text x="139.03" y="464.13" font-size="20.51" fill="#262626" text-anchor="end" textLength="32.86" lengthAdjust="spacingAndGlyphs">200</text><text x="139.03" y="434.33" font-size="20.51" fill="#262626" text-anchor="end" textLength="32.86" lengthAdjust="spacingAndGlyphs">400</text><text x="482.03" y="493.93" font-size="20.51" fill="#262626" text-anchor="end" textLength="10.95" lengthAdjust="spacingAndGlyphs">0</text><text x="482.03" y="464.13" font-size="20.51" fill="#262626" text-anchor="end" textLength="21.91" lengthAdjust="spacingAndGlyphs">50</text><text x="482.03" y="434.33" font-size="20.51" fill="#262626" text-anchor="end" textLength="32.86" lengthAdjust="spacingAndGlyphs">100</text><text transform="translate(160.87,509.36) rotate(-45)" font-size="20.34" fill="#262626" text-anchor="end">01/26</text><text transform="translate(202.47,509.36) rotate(-45)" font-size="20.34" fill="#262626" text-anchor="end">01/27</text><text transform="translate(244.07,509.36) rotate(-45)" font-size="20.34" fill="#262626" text-anchor="end">01/28</text><text transform="translate(285.67,509.36) rotate(-45)" font-size="20.34" fill="#262626" text-anchor="end">01/29</text><text transform="translate(327.27,509.36) rotate(-45)" font-size="20.34" fill="#262626" text-anchor="end">01/30</text><text transform="translate(368.87,509.36) rotate(-45)" font-size="20.34" fill="#262626" text-anchor="end">01/31</text><text transform="translate(503.87,509.36) rotate(-45)" font-size="20.34" fill="#262626" text-anchor="end">01/26</text><text transform="translate(545.47,509.36) rotate(-45)" font-size="20.34" fill="#262626" text-anchor="end">01/27</text><text transform="translate(587.07,509.36) rotate(-45)" font-size="20.34" fill="#262626" text-anchor="end">01/28</text><text transform="translate(628.67,509.36) rotate(-45)" font-size="20.34" fill="#262626" text-anchor="end">01/29</text><text transform="translate(670.27,509.36) rotate(-45)" font-size="20.34" fill="#262626" text-anchor="end">01/30</text><text transform="translate(711.87,509.36) rotate(-45)" font-size="20.34" fill="#262626" text-anchor="end">01/31</text><text transform="translate(250.85,31.75) rotate(0)" font-size="22.96" fill="#000" font-weight="bold" text-anchor="middle" textLength="129.21" lengthAdjust="spacingAndGlyphs">Figure 3 low</text><text transform="translate(250.62,576.39) rotate(0)" font-size="22.30" fill="#262626" text-anchor="middle" textLength="50.97" lengthAdjust="spacingAndGlyphs">Time</text><text transform="translate(594.25,576.33) rotate(0)" font-size="22.47" fill="#262626" text-anchor="middle" textLength="49.78" lengthAdjust="spacingAndGlyphs">Time</text><text transform="translate(83.44,74.54) rotate(-90)" font-size="21.10" fill="#262626" text-anchor="middle" textLength="101.30" lengthAdjust="spacingAndGlyphs">PRESSURE</text><text transform="translate(437.24,74.24) rotate(-90)" font-size="21.10" fill="#262626" text-anchor="middle" textLength="66.90" lengthAdjust="spacingAndGlyphs">THETA</text><text transform="translate(444.34,202.31) rotate(-90)" font-size="21.10" fill="#262626" text-anchor="middle" textLength="97.33" lengthAdjust="spacingAndGlyphs">RAINFALL</text><text transform="translate(84.49,330.10) rotate(-90)" font-size="21.10" fill="#262626" text-anchor="middle" textLength="107.54" lengthAdjust="spacingAndGlyphs">MIXDEPTH</text><text transform="translate(444.44,329.81) rotate(-90)" font-size="21.10" fill="#262626" text-anchor="middle" textLength="110.40" lengthAdjust="spacingAndGlyphs">H2OMIXRA</text><text transform="translate(85.94,228.79) rotate(-90)" font-size="21.10" fill="#262626" text-anchor="middle" textLength="33.43" lengthAdjust="spacingAndGlyphs">AIR</text><text transform="translate(95.82,206.28) rotate(-90)" font-size="15.80" fill="#262626" text-anchor="middle" textLength="9.70" lengthAdjust="spacingAndGlyphs">T</text><text transform="translate(85.94,178.51) rotate(-90)" font-size="21.10" fill="#262626" text-anchor="middle" textLength="44.31" lengthAdjust="spacingAndGlyphs">EMP</text><text transform="translate(85.24,476.62) rotate(-90)" font-size="21.10" fill="#262626" text-anchor="middle" textLength="52.10" lengthAdjust="spacingAndGlyphs">TERR</text><text transform="translate(95.84,442.98) rotate(-90)" font-size="15.80" fill="#262626" text-anchor="middle" textLength="15.44" lengthAdjust="spacingAndGlyphs">M</text><text transform="translate(85.24,422.88) rotate(-90)" font-size="21.10" fill="#262626" text-anchor="middle" textLength="21.98" lengthAdjust="spacingAndGlyphs">SL</text><text transform="translate(398.29,482.38) rotate(-90)" font-size="21.10" fill="#262626" text-anchor="middle" textLength="41.67" lengthAdjust="spacingAndGlyphs">SUN</text><text transform="translate(407.49,454.12) rotate(-90)" font-size="15.80" fill="#262626" text-anchor="middle" textLength="8.46" lengthAdjust="spacingAndGlyphs">F</text><text transform="translate(398.29,429.77) rotate(-90)" font-size="21.10" fill="#262626" text-anchor="middle" textLength="39.51" lengthAdjust="spacingAndGlyphs">LUX</text></g>
</svg></body></html>
